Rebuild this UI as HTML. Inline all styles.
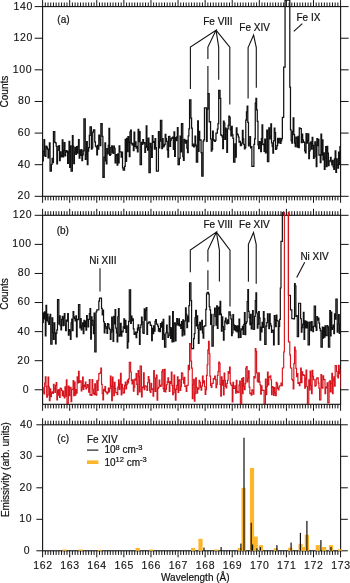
<!DOCTYPE html>
<html><head><meta charset="utf-8"><style>
html,body{margin:0;padding:0;background:#fff;width:350px;height:583px;overflow:hidden}
svg{display:block}
text{font-family:"Liberation Sans",sans-serif;font-size:10px;fill:#111;stroke:#111;stroke-width:0.2px}
.num{font-size:10.5px;letter-spacing:0.65px;stroke-width:0.12px}
</style></head><body>
<svg width="350" height="583" viewBox="0 0 350 583">
<defs>
<clipPath id="ca"><rect x="42.6" y="0" width="298" height="196.3"/></clipPath>
<clipPath id="cb"><rect x="42.6" y="212" width="298" height="192.3"/></clipPath>
</defs>
<g stroke="#111" stroke-width="1" fill="none">
<rect x="42.6" y="6.6" width="298.0" height="189.70000000000002" fill="none" stroke="#111" stroke-width="1.1"/>
<line x1="42.60" y1="6.6" x2="42.60" y2="0.09999999999999964"/>
<line x1="42.60" y1="196.3" x2="42.60" y2="202.8"/>
<line x1="45.31" y1="6.6" x2="45.31" y2="2.5"/>
<line x1="45.31" y1="196.3" x2="45.31" y2="200.4"/>
<line x1="48.02" y1="6.6" x2="48.02" y2="2.5"/>
<line x1="48.02" y1="196.3" x2="48.02" y2="200.4"/>
<line x1="50.73" y1="6.6" x2="50.73" y2="2.5"/>
<line x1="50.73" y1="196.3" x2="50.73" y2="200.4"/>
<line x1="53.44" y1="6.6" x2="53.44" y2="2.5"/>
<line x1="53.44" y1="196.3" x2="53.44" y2="200.4"/>
<line x1="56.15" y1="6.6" x2="56.15" y2="2.5"/>
<line x1="56.15" y1="196.3" x2="56.15" y2="200.4"/>
<line x1="58.85" y1="6.6" x2="58.85" y2="2.5"/>
<line x1="58.85" y1="196.3" x2="58.85" y2="200.4"/>
<line x1="61.56" y1="6.6" x2="61.56" y2="2.5"/>
<line x1="61.56" y1="196.3" x2="61.56" y2="200.4"/>
<line x1="64.27" y1="6.6" x2="64.27" y2="2.5"/>
<line x1="64.27" y1="196.3" x2="64.27" y2="200.4"/>
<line x1="66.98" y1="6.6" x2="66.98" y2="2.5"/>
<line x1="66.98" y1="196.3" x2="66.98" y2="200.4"/>
<line x1="69.69" y1="6.6" x2="69.69" y2="0.09999999999999964"/>
<line x1="69.69" y1="196.3" x2="69.69" y2="202.8"/>
<line x1="72.40" y1="6.6" x2="72.40" y2="2.5"/>
<line x1="72.40" y1="196.3" x2="72.40" y2="200.4"/>
<line x1="75.11" y1="6.6" x2="75.11" y2="2.5"/>
<line x1="75.11" y1="196.3" x2="75.11" y2="200.4"/>
<line x1="77.82" y1="6.6" x2="77.82" y2="2.5"/>
<line x1="77.82" y1="196.3" x2="77.82" y2="200.4"/>
<line x1="80.53" y1="6.6" x2="80.53" y2="2.5"/>
<line x1="80.53" y1="196.3" x2="80.53" y2="200.4"/>
<line x1="83.23" y1="6.6" x2="83.23" y2="2.5"/>
<line x1="83.23" y1="196.3" x2="83.23" y2="200.4"/>
<line x1="85.94" y1="6.6" x2="85.94" y2="2.5"/>
<line x1="85.94" y1="196.3" x2="85.94" y2="200.4"/>
<line x1="88.65" y1="6.6" x2="88.65" y2="2.5"/>
<line x1="88.65" y1="196.3" x2="88.65" y2="200.4"/>
<line x1="91.36" y1="6.6" x2="91.36" y2="2.5"/>
<line x1="91.36" y1="196.3" x2="91.36" y2="200.4"/>
<line x1="94.07" y1="6.6" x2="94.07" y2="2.5"/>
<line x1="94.07" y1="196.3" x2="94.07" y2="200.4"/>
<line x1="96.78" y1="6.6" x2="96.78" y2="0.09999999999999964"/>
<line x1="96.78" y1="196.3" x2="96.78" y2="202.8"/>
<line x1="99.49" y1="6.6" x2="99.49" y2="2.5"/>
<line x1="99.49" y1="196.3" x2="99.49" y2="200.4"/>
<line x1="102.20" y1="6.6" x2="102.20" y2="2.5"/>
<line x1="102.20" y1="196.3" x2="102.20" y2="200.4"/>
<line x1="104.91" y1="6.6" x2="104.91" y2="2.5"/>
<line x1="104.91" y1="196.3" x2="104.91" y2="200.4"/>
<line x1="107.62" y1="6.6" x2="107.62" y2="2.5"/>
<line x1="107.62" y1="196.3" x2="107.62" y2="200.4"/>
<line x1="110.32" y1="6.6" x2="110.32" y2="2.5"/>
<line x1="110.32" y1="196.3" x2="110.32" y2="200.4"/>
<line x1="113.03" y1="6.6" x2="113.03" y2="2.5"/>
<line x1="113.03" y1="196.3" x2="113.03" y2="200.4"/>
<line x1="115.74" y1="6.6" x2="115.74" y2="2.5"/>
<line x1="115.74" y1="196.3" x2="115.74" y2="200.4"/>
<line x1="118.45" y1="6.6" x2="118.45" y2="2.5"/>
<line x1="118.45" y1="196.3" x2="118.45" y2="200.4"/>
<line x1="121.16" y1="6.6" x2="121.16" y2="2.5"/>
<line x1="121.16" y1="196.3" x2="121.16" y2="200.4"/>
<line x1="123.87" y1="6.6" x2="123.87" y2="0.09999999999999964"/>
<line x1="123.87" y1="196.3" x2="123.87" y2="202.8"/>
<line x1="126.58" y1="6.6" x2="126.58" y2="2.5"/>
<line x1="126.58" y1="196.3" x2="126.58" y2="200.4"/>
<line x1="129.29" y1="6.6" x2="129.29" y2="2.5"/>
<line x1="129.29" y1="196.3" x2="129.29" y2="200.4"/>
<line x1="132.00" y1="6.6" x2="132.00" y2="2.5"/>
<line x1="132.00" y1="196.3" x2="132.00" y2="200.4"/>
<line x1="134.71" y1="6.6" x2="134.71" y2="2.5"/>
<line x1="134.71" y1="196.3" x2="134.71" y2="200.4"/>
<line x1="137.41" y1="6.6" x2="137.41" y2="2.5"/>
<line x1="137.41" y1="196.3" x2="137.41" y2="200.4"/>
<line x1="140.12" y1="6.6" x2="140.12" y2="2.5"/>
<line x1="140.12" y1="196.3" x2="140.12" y2="200.4"/>
<line x1="142.83" y1="6.6" x2="142.83" y2="2.5"/>
<line x1="142.83" y1="196.3" x2="142.83" y2="200.4"/>
<line x1="145.54" y1="6.6" x2="145.54" y2="2.5"/>
<line x1="145.54" y1="196.3" x2="145.54" y2="200.4"/>
<line x1="148.25" y1="6.6" x2="148.25" y2="2.5"/>
<line x1="148.25" y1="196.3" x2="148.25" y2="200.4"/>
<line x1="150.96" y1="6.6" x2="150.96" y2="0.09999999999999964"/>
<line x1="150.96" y1="196.3" x2="150.96" y2="202.8"/>
<line x1="153.67" y1="6.6" x2="153.67" y2="2.5"/>
<line x1="153.67" y1="196.3" x2="153.67" y2="200.4"/>
<line x1="156.38" y1="6.6" x2="156.38" y2="2.5"/>
<line x1="156.38" y1="196.3" x2="156.38" y2="200.4"/>
<line x1="159.09" y1="6.6" x2="159.09" y2="2.5"/>
<line x1="159.09" y1="196.3" x2="159.09" y2="200.4"/>
<line x1="161.80" y1="6.6" x2="161.80" y2="2.5"/>
<line x1="161.80" y1="196.3" x2="161.80" y2="200.4"/>
<line x1="164.50" y1="6.6" x2="164.50" y2="2.5"/>
<line x1="164.50" y1="196.3" x2="164.50" y2="200.4"/>
<line x1="167.21" y1="6.6" x2="167.21" y2="2.5"/>
<line x1="167.21" y1="196.3" x2="167.21" y2="200.4"/>
<line x1="169.92" y1="6.6" x2="169.92" y2="2.5"/>
<line x1="169.92" y1="196.3" x2="169.92" y2="200.4"/>
<line x1="172.63" y1="6.6" x2="172.63" y2="2.5"/>
<line x1="172.63" y1="196.3" x2="172.63" y2="200.4"/>
<line x1="175.34" y1="6.6" x2="175.34" y2="2.5"/>
<line x1="175.34" y1="196.3" x2="175.34" y2="200.4"/>
<line x1="178.05" y1="6.6" x2="178.05" y2="0.09999999999999964"/>
<line x1="178.05" y1="196.3" x2="178.05" y2="202.8"/>
<line x1="180.76" y1="6.6" x2="180.76" y2="2.5"/>
<line x1="180.76" y1="196.3" x2="180.76" y2="200.4"/>
<line x1="183.47" y1="6.6" x2="183.47" y2="2.5"/>
<line x1="183.47" y1="196.3" x2="183.47" y2="200.4"/>
<line x1="186.18" y1="6.6" x2="186.18" y2="2.5"/>
<line x1="186.18" y1="196.3" x2="186.18" y2="200.4"/>
<line x1="188.89" y1="6.6" x2="188.89" y2="2.5"/>
<line x1="188.89" y1="196.3" x2="188.89" y2="200.4"/>
<line x1="191.59" y1="6.6" x2="191.59" y2="2.5"/>
<line x1="191.59" y1="196.3" x2="191.59" y2="200.4"/>
<line x1="194.30" y1="6.6" x2="194.30" y2="2.5"/>
<line x1="194.30" y1="196.3" x2="194.30" y2="200.4"/>
<line x1="197.01" y1="6.6" x2="197.01" y2="2.5"/>
<line x1="197.01" y1="196.3" x2="197.01" y2="200.4"/>
<line x1="199.72" y1="6.6" x2="199.72" y2="2.5"/>
<line x1="199.72" y1="196.3" x2="199.72" y2="200.4"/>
<line x1="202.43" y1="6.6" x2="202.43" y2="2.5"/>
<line x1="202.43" y1="196.3" x2="202.43" y2="200.4"/>
<line x1="205.14" y1="6.6" x2="205.14" y2="0.09999999999999964"/>
<line x1="205.14" y1="196.3" x2="205.14" y2="202.8"/>
<line x1="207.85" y1="6.6" x2="207.85" y2="2.5"/>
<line x1="207.85" y1="196.3" x2="207.85" y2="200.4"/>
<line x1="210.56" y1="6.6" x2="210.56" y2="2.5"/>
<line x1="210.56" y1="196.3" x2="210.56" y2="200.4"/>
<line x1="213.27" y1="6.6" x2="213.27" y2="2.5"/>
<line x1="213.27" y1="196.3" x2="213.27" y2="200.4"/>
<line x1="215.98" y1="6.6" x2="215.98" y2="2.5"/>
<line x1="215.98" y1="196.3" x2="215.98" y2="200.4"/>
<line x1="218.69" y1="6.6" x2="218.69" y2="2.5"/>
<line x1="218.69" y1="196.3" x2="218.69" y2="200.4"/>
<line x1="221.39" y1="6.6" x2="221.39" y2="2.5"/>
<line x1="221.39" y1="196.3" x2="221.39" y2="200.4"/>
<line x1="224.10" y1="6.6" x2="224.10" y2="2.5"/>
<line x1="224.10" y1="196.3" x2="224.10" y2="200.4"/>
<line x1="226.81" y1="6.6" x2="226.81" y2="2.5"/>
<line x1="226.81" y1="196.3" x2="226.81" y2="200.4"/>
<line x1="229.52" y1="6.6" x2="229.52" y2="2.5"/>
<line x1="229.52" y1="196.3" x2="229.52" y2="200.4"/>
<line x1="232.23" y1="6.6" x2="232.23" y2="0.09999999999999964"/>
<line x1="232.23" y1="196.3" x2="232.23" y2="202.8"/>
<line x1="234.94" y1="6.6" x2="234.94" y2="2.5"/>
<line x1="234.94" y1="196.3" x2="234.94" y2="200.4"/>
<line x1="237.65" y1="6.6" x2="237.65" y2="2.5"/>
<line x1="237.65" y1="196.3" x2="237.65" y2="200.4"/>
<line x1="240.36" y1="6.6" x2="240.36" y2="2.5"/>
<line x1="240.36" y1="196.3" x2="240.36" y2="200.4"/>
<line x1="243.07" y1="6.6" x2="243.07" y2="2.5"/>
<line x1="243.07" y1="196.3" x2="243.07" y2="200.4"/>
<line x1="245.78" y1="6.6" x2="245.78" y2="2.5"/>
<line x1="245.78" y1="196.3" x2="245.78" y2="200.4"/>
<line x1="248.48" y1="6.6" x2="248.48" y2="2.5"/>
<line x1="248.48" y1="196.3" x2="248.48" y2="200.4"/>
<line x1="251.19" y1="6.6" x2="251.19" y2="2.5"/>
<line x1="251.19" y1="196.3" x2="251.19" y2="200.4"/>
<line x1="253.90" y1="6.6" x2="253.90" y2="2.5"/>
<line x1="253.90" y1="196.3" x2="253.90" y2="200.4"/>
<line x1="256.61" y1="6.6" x2="256.61" y2="2.5"/>
<line x1="256.61" y1="196.3" x2="256.61" y2="200.4"/>
<line x1="259.32" y1="6.6" x2="259.32" y2="0.09999999999999964"/>
<line x1="259.32" y1="196.3" x2="259.32" y2="202.8"/>
<line x1="262.03" y1="6.6" x2="262.03" y2="2.5"/>
<line x1="262.03" y1="196.3" x2="262.03" y2="200.4"/>
<line x1="264.74" y1="6.6" x2="264.74" y2="2.5"/>
<line x1="264.74" y1="196.3" x2="264.74" y2="200.4"/>
<line x1="267.45" y1="6.6" x2="267.45" y2="2.5"/>
<line x1="267.45" y1="196.3" x2="267.45" y2="200.4"/>
<line x1="270.16" y1="6.6" x2="270.16" y2="2.5"/>
<line x1="270.16" y1="196.3" x2="270.16" y2="200.4"/>
<line x1="272.87" y1="6.6" x2="272.87" y2="2.5"/>
<line x1="272.87" y1="196.3" x2="272.87" y2="200.4"/>
<line x1="275.57" y1="6.6" x2="275.57" y2="2.5"/>
<line x1="275.57" y1="196.3" x2="275.57" y2="200.4"/>
<line x1="278.28" y1="6.6" x2="278.28" y2="2.5"/>
<line x1="278.28" y1="196.3" x2="278.28" y2="200.4"/>
<line x1="280.99" y1="6.6" x2="280.99" y2="2.5"/>
<line x1="280.99" y1="196.3" x2="280.99" y2="200.4"/>
<line x1="283.70" y1="6.6" x2="283.70" y2="2.5"/>
<line x1="283.70" y1="196.3" x2="283.70" y2="200.4"/>
<line x1="286.41" y1="6.6" x2="286.41" y2="0.09999999999999964"/>
<line x1="286.41" y1="196.3" x2="286.41" y2="202.8"/>
<line x1="289.12" y1="6.6" x2="289.12" y2="2.5"/>
<line x1="289.12" y1="196.3" x2="289.12" y2="200.4"/>
<line x1="291.83" y1="6.6" x2="291.83" y2="2.5"/>
<line x1="291.83" y1="196.3" x2="291.83" y2="200.4"/>
<line x1="294.54" y1="6.6" x2="294.54" y2="2.5"/>
<line x1="294.54" y1="196.3" x2="294.54" y2="200.4"/>
<line x1="297.25" y1="6.6" x2="297.25" y2="2.5"/>
<line x1="297.25" y1="196.3" x2="297.25" y2="200.4"/>
<line x1="299.96" y1="6.6" x2="299.96" y2="2.5"/>
<line x1="299.96" y1="196.3" x2="299.96" y2="200.4"/>
<line x1="302.66" y1="6.6" x2="302.66" y2="2.5"/>
<line x1="302.66" y1="196.3" x2="302.66" y2="200.4"/>
<line x1="305.37" y1="6.6" x2="305.37" y2="2.5"/>
<line x1="305.37" y1="196.3" x2="305.37" y2="200.4"/>
<line x1="308.08" y1="6.6" x2="308.08" y2="2.5"/>
<line x1="308.08" y1="196.3" x2="308.08" y2="200.4"/>
<line x1="310.79" y1="6.6" x2="310.79" y2="2.5"/>
<line x1="310.79" y1="196.3" x2="310.79" y2="200.4"/>
<line x1="313.50" y1="6.6" x2="313.50" y2="0.09999999999999964"/>
<line x1="313.50" y1="196.3" x2="313.50" y2="202.8"/>
<line x1="316.21" y1="6.6" x2="316.21" y2="2.5"/>
<line x1="316.21" y1="196.3" x2="316.21" y2="200.4"/>
<line x1="318.92" y1="6.6" x2="318.92" y2="2.5"/>
<line x1="318.92" y1="196.3" x2="318.92" y2="200.4"/>
<line x1="321.63" y1="6.6" x2="321.63" y2="2.5"/>
<line x1="321.63" y1="196.3" x2="321.63" y2="200.4"/>
<line x1="324.34" y1="6.6" x2="324.34" y2="2.5"/>
<line x1="324.34" y1="196.3" x2="324.34" y2="200.4"/>
<line x1="327.05" y1="6.6" x2="327.05" y2="2.5"/>
<line x1="327.05" y1="196.3" x2="327.05" y2="200.4"/>
<line x1="329.75" y1="6.6" x2="329.75" y2="2.5"/>
<line x1="329.75" y1="196.3" x2="329.75" y2="200.4"/>
<line x1="332.46" y1="6.6" x2="332.46" y2="2.5"/>
<line x1="332.46" y1="196.3" x2="332.46" y2="200.4"/>
<line x1="335.17" y1="6.6" x2="335.17" y2="2.5"/>
<line x1="335.17" y1="196.3" x2="335.17" y2="200.4"/>
<line x1="337.88" y1="6.6" x2="337.88" y2="2.5"/>
<line x1="337.88" y1="196.3" x2="337.88" y2="200.4"/>
<line x1="340.59" y1="6.6" x2="340.59" y2="0.09999999999999964"/>
<line x1="340.59" y1="196.3" x2="340.59" y2="202.8"/>
<line x1="34.7" y1="6.60" x2="42.6" y2="6.60"/>
<line x1="340.6" y1="6.60" x2="348.6" y2="6.60"/>
<line x1="34.7" y1="38.22" x2="42.6" y2="38.22"/>
<line x1="340.6" y1="38.22" x2="348.6" y2="38.22"/>
<line x1="34.7" y1="69.84" x2="42.6" y2="69.84"/>
<line x1="340.6" y1="69.84" x2="348.6" y2="69.84"/>
<line x1="34.7" y1="101.46" x2="42.6" y2="101.46"/>
<line x1="340.6" y1="101.46" x2="348.6" y2="101.46"/>
<line x1="34.7" y1="133.08" x2="42.6" y2="133.08"/>
<line x1="340.6" y1="133.08" x2="348.6" y2="133.08"/>
<line x1="34.7" y1="164.70" x2="42.6" y2="164.70"/>
<line x1="340.6" y1="164.70" x2="348.6" y2="164.70"/>
<line x1="34.7" y1="196.32" x2="42.6" y2="196.32"/>
<line x1="340.6" y1="196.32" x2="348.6" y2="196.32"/>
<rect x="42.6" y="215.3" width="298.0" height="189.0" fill="none" stroke="#111" stroke-width="1.1"/>
<line x1="42.60" y1="215.3" x2="42.60" y2="208.8"/>
<line x1="42.60" y1="404.3" x2="42.60" y2="410.8"/>
<line x1="45.31" y1="215.3" x2="45.31" y2="211.20000000000002"/>
<line x1="45.31" y1="404.3" x2="45.31" y2="408.40000000000003"/>
<line x1="48.02" y1="215.3" x2="48.02" y2="211.20000000000002"/>
<line x1="48.02" y1="404.3" x2="48.02" y2="408.40000000000003"/>
<line x1="50.73" y1="215.3" x2="50.73" y2="211.20000000000002"/>
<line x1="50.73" y1="404.3" x2="50.73" y2="408.40000000000003"/>
<line x1="53.44" y1="215.3" x2="53.44" y2="211.20000000000002"/>
<line x1="53.44" y1="404.3" x2="53.44" y2="408.40000000000003"/>
<line x1="56.15" y1="215.3" x2="56.15" y2="211.20000000000002"/>
<line x1="56.15" y1="404.3" x2="56.15" y2="408.40000000000003"/>
<line x1="58.85" y1="215.3" x2="58.85" y2="211.20000000000002"/>
<line x1="58.85" y1="404.3" x2="58.85" y2="408.40000000000003"/>
<line x1="61.56" y1="215.3" x2="61.56" y2="211.20000000000002"/>
<line x1="61.56" y1="404.3" x2="61.56" y2="408.40000000000003"/>
<line x1="64.27" y1="215.3" x2="64.27" y2="211.20000000000002"/>
<line x1="64.27" y1="404.3" x2="64.27" y2="408.40000000000003"/>
<line x1="66.98" y1="215.3" x2="66.98" y2="211.20000000000002"/>
<line x1="66.98" y1="404.3" x2="66.98" y2="408.40000000000003"/>
<line x1="69.69" y1="215.3" x2="69.69" y2="208.8"/>
<line x1="69.69" y1="404.3" x2="69.69" y2="410.8"/>
<line x1="72.40" y1="215.3" x2="72.40" y2="211.20000000000002"/>
<line x1="72.40" y1="404.3" x2="72.40" y2="408.40000000000003"/>
<line x1="75.11" y1="215.3" x2="75.11" y2="211.20000000000002"/>
<line x1="75.11" y1="404.3" x2="75.11" y2="408.40000000000003"/>
<line x1="77.82" y1="215.3" x2="77.82" y2="211.20000000000002"/>
<line x1="77.82" y1="404.3" x2="77.82" y2="408.40000000000003"/>
<line x1="80.53" y1="215.3" x2="80.53" y2="211.20000000000002"/>
<line x1="80.53" y1="404.3" x2="80.53" y2="408.40000000000003"/>
<line x1="83.23" y1="215.3" x2="83.23" y2="211.20000000000002"/>
<line x1="83.23" y1="404.3" x2="83.23" y2="408.40000000000003"/>
<line x1="85.94" y1="215.3" x2="85.94" y2="211.20000000000002"/>
<line x1="85.94" y1="404.3" x2="85.94" y2="408.40000000000003"/>
<line x1="88.65" y1="215.3" x2="88.65" y2="211.20000000000002"/>
<line x1="88.65" y1="404.3" x2="88.65" y2="408.40000000000003"/>
<line x1="91.36" y1="215.3" x2="91.36" y2="211.20000000000002"/>
<line x1="91.36" y1="404.3" x2="91.36" y2="408.40000000000003"/>
<line x1="94.07" y1="215.3" x2="94.07" y2="211.20000000000002"/>
<line x1="94.07" y1="404.3" x2="94.07" y2="408.40000000000003"/>
<line x1="96.78" y1="215.3" x2="96.78" y2="208.8"/>
<line x1="96.78" y1="404.3" x2="96.78" y2="410.8"/>
<line x1="99.49" y1="215.3" x2="99.49" y2="211.20000000000002"/>
<line x1="99.49" y1="404.3" x2="99.49" y2="408.40000000000003"/>
<line x1="102.20" y1="215.3" x2="102.20" y2="211.20000000000002"/>
<line x1="102.20" y1="404.3" x2="102.20" y2="408.40000000000003"/>
<line x1="104.91" y1="215.3" x2="104.91" y2="211.20000000000002"/>
<line x1="104.91" y1="404.3" x2="104.91" y2="408.40000000000003"/>
<line x1="107.62" y1="215.3" x2="107.62" y2="211.20000000000002"/>
<line x1="107.62" y1="404.3" x2="107.62" y2="408.40000000000003"/>
<line x1="110.32" y1="215.3" x2="110.32" y2="211.20000000000002"/>
<line x1="110.32" y1="404.3" x2="110.32" y2="408.40000000000003"/>
<line x1="113.03" y1="215.3" x2="113.03" y2="211.20000000000002"/>
<line x1="113.03" y1="404.3" x2="113.03" y2="408.40000000000003"/>
<line x1="115.74" y1="215.3" x2="115.74" y2="211.20000000000002"/>
<line x1="115.74" y1="404.3" x2="115.74" y2="408.40000000000003"/>
<line x1="118.45" y1="215.3" x2="118.45" y2="211.20000000000002"/>
<line x1="118.45" y1="404.3" x2="118.45" y2="408.40000000000003"/>
<line x1="121.16" y1="215.3" x2="121.16" y2="211.20000000000002"/>
<line x1="121.16" y1="404.3" x2="121.16" y2="408.40000000000003"/>
<line x1="123.87" y1="215.3" x2="123.87" y2="208.8"/>
<line x1="123.87" y1="404.3" x2="123.87" y2="410.8"/>
<line x1="126.58" y1="215.3" x2="126.58" y2="211.20000000000002"/>
<line x1="126.58" y1="404.3" x2="126.58" y2="408.40000000000003"/>
<line x1="129.29" y1="215.3" x2="129.29" y2="211.20000000000002"/>
<line x1="129.29" y1="404.3" x2="129.29" y2="408.40000000000003"/>
<line x1="132.00" y1="215.3" x2="132.00" y2="211.20000000000002"/>
<line x1="132.00" y1="404.3" x2="132.00" y2="408.40000000000003"/>
<line x1="134.71" y1="215.3" x2="134.71" y2="211.20000000000002"/>
<line x1="134.71" y1="404.3" x2="134.71" y2="408.40000000000003"/>
<line x1="137.41" y1="215.3" x2="137.41" y2="211.20000000000002"/>
<line x1="137.41" y1="404.3" x2="137.41" y2="408.40000000000003"/>
<line x1="140.12" y1="215.3" x2="140.12" y2="211.20000000000002"/>
<line x1="140.12" y1="404.3" x2="140.12" y2="408.40000000000003"/>
<line x1="142.83" y1="215.3" x2="142.83" y2="211.20000000000002"/>
<line x1="142.83" y1="404.3" x2="142.83" y2="408.40000000000003"/>
<line x1="145.54" y1="215.3" x2="145.54" y2="211.20000000000002"/>
<line x1="145.54" y1="404.3" x2="145.54" y2="408.40000000000003"/>
<line x1="148.25" y1="215.3" x2="148.25" y2="211.20000000000002"/>
<line x1="148.25" y1="404.3" x2="148.25" y2="408.40000000000003"/>
<line x1="150.96" y1="215.3" x2="150.96" y2="208.8"/>
<line x1="150.96" y1="404.3" x2="150.96" y2="410.8"/>
<line x1="153.67" y1="215.3" x2="153.67" y2="211.20000000000002"/>
<line x1="153.67" y1="404.3" x2="153.67" y2="408.40000000000003"/>
<line x1="156.38" y1="215.3" x2="156.38" y2="211.20000000000002"/>
<line x1="156.38" y1="404.3" x2="156.38" y2="408.40000000000003"/>
<line x1="159.09" y1="215.3" x2="159.09" y2="211.20000000000002"/>
<line x1="159.09" y1="404.3" x2="159.09" y2="408.40000000000003"/>
<line x1="161.80" y1="215.3" x2="161.80" y2="211.20000000000002"/>
<line x1="161.80" y1="404.3" x2="161.80" y2="408.40000000000003"/>
<line x1="164.50" y1="215.3" x2="164.50" y2="211.20000000000002"/>
<line x1="164.50" y1="404.3" x2="164.50" y2="408.40000000000003"/>
<line x1="167.21" y1="215.3" x2="167.21" y2="211.20000000000002"/>
<line x1="167.21" y1="404.3" x2="167.21" y2="408.40000000000003"/>
<line x1="169.92" y1="215.3" x2="169.92" y2="211.20000000000002"/>
<line x1="169.92" y1="404.3" x2="169.92" y2="408.40000000000003"/>
<line x1="172.63" y1="215.3" x2="172.63" y2="211.20000000000002"/>
<line x1="172.63" y1="404.3" x2="172.63" y2="408.40000000000003"/>
<line x1="175.34" y1="215.3" x2="175.34" y2="211.20000000000002"/>
<line x1="175.34" y1="404.3" x2="175.34" y2="408.40000000000003"/>
<line x1="178.05" y1="215.3" x2="178.05" y2="208.8"/>
<line x1="178.05" y1="404.3" x2="178.05" y2="410.8"/>
<line x1="180.76" y1="215.3" x2="180.76" y2="211.20000000000002"/>
<line x1="180.76" y1="404.3" x2="180.76" y2="408.40000000000003"/>
<line x1="183.47" y1="215.3" x2="183.47" y2="211.20000000000002"/>
<line x1="183.47" y1="404.3" x2="183.47" y2="408.40000000000003"/>
<line x1="186.18" y1="215.3" x2="186.18" y2="211.20000000000002"/>
<line x1="186.18" y1="404.3" x2="186.18" y2="408.40000000000003"/>
<line x1="188.89" y1="215.3" x2="188.89" y2="211.20000000000002"/>
<line x1="188.89" y1="404.3" x2="188.89" y2="408.40000000000003"/>
<line x1="191.59" y1="215.3" x2="191.59" y2="211.20000000000002"/>
<line x1="191.59" y1="404.3" x2="191.59" y2="408.40000000000003"/>
<line x1="194.30" y1="215.3" x2="194.30" y2="211.20000000000002"/>
<line x1="194.30" y1="404.3" x2="194.30" y2="408.40000000000003"/>
<line x1="197.01" y1="215.3" x2="197.01" y2="211.20000000000002"/>
<line x1="197.01" y1="404.3" x2="197.01" y2="408.40000000000003"/>
<line x1="199.72" y1="215.3" x2="199.72" y2="211.20000000000002"/>
<line x1="199.72" y1="404.3" x2="199.72" y2="408.40000000000003"/>
<line x1="202.43" y1="215.3" x2="202.43" y2="211.20000000000002"/>
<line x1="202.43" y1="404.3" x2="202.43" y2="408.40000000000003"/>
<line x1="205.14" y1="215.3" x2="205.14" y2="208.8"/>
<line x1="205.14" y1="404.3" x2="205.14" y2="410.8"/>
<line x1="207.85" y1="215.3" x2="207.85" y2="211.20000000000002"/>
<line x1="207.85" y1="404.3" x2="207.85" y2="408.40000000000003"/>
<line x1="210.56" y1="215.3" x2="210.56" y2="211.20000000000002"/>
<line x1="210.56" y1="404.3" x2="210.56" y2="408.40000000000003"/>
<line x1="213.27" y1="215.3" x2="213.27" y2="211.20000000000002"/>
<line x1="213.27" y1="404.3" x2="213.27" y2="408.40000000000003"/>
<line x1="215.98" y1="215.3" x2="215.98" y2="211.20000000000002"/>
<line x1="215.98" y1="404.3" x2="215.98" y2="408.40000000000003"/>
<line x1="218.69" y1="215.3" x2="218.69" y2="211.20000000000002"/>
<line x1="218.69" y1="404.3" x2="218.69" y2="408.40000000000003"/>
<line x1="221.39" y1="215.3" x2="221.39" y2="211.20000000000002"/>
<line x1="221.39" y1="404.3" x2="221.39" y2="408.40000000000003"/>
<line x1="224.10" y1="215.3" x2="224.10" y2="211.20000000000002"/>
<line x1="224.10" y1="404.3" x2="224.10" y2="408.40000000000003"/>
<line x1="226.81" y1="215.3" x2="226.81" y2="211.20000000000002"/>
<line x1="226.81" y1="404.3" x2="226.81" y2="408.40000000000003"/>
<line x1="229.52" y1="215.3" x2="229.52" y2="211.20000000000002"/>
<line x1="229.52" y1="404.3" x2="229.52" y2="408.40000000000003"/>
<line x1="232.23" y1="215.3" x2="232.23" y2="208.8"/>
<line x1="232.23" y1="404.3" x2="232.23" y2="410.8"/>
<line x1="234.94" y1="215.3" x2="234.94" y2="211.20000000000002"/>
<line x1="234.94" y1="404.3" x2="234.94" y2="408.40000000000003"/>
<line x1="237.65" y1="215.3" x2="237.65" y2="211.20000000000002"/>
<line x1="237.65" y1="404.3" x2="237.65" y2="408.40000000000003"/>
<line x1="240.36" y1="215.3" x2="240.36" y2="211.20000000000002"/>
<line x1="240.36" y1="404.3" x2="240.36" y2="408.40000000000003"/>
<line x1="243.07" y1="215.3" x2="243.07" y2="211.20000000000002"/>
<line x1="243.07" y1="404.3" x2="243.07" y2="408.40000000000003"/>
<line x1="245.78" y1="215.3" x2="245.78" y2="211.20000000000002"/>
<line x1="245.78" y1="404.3" x2="245.78" y2="408.40000000000003"/>
<line x1="248.48" y1="215.3" x2="248.48" y2="211.20000000000002"/>
<line x1="248.48" y1="404.3" x2="248.48" y2="408.40000000000003"/>
<line x1="251.19" y1="215.3" x2="251.19" y2="211.20000000000002"/>
<line x1="251.19" y1="404.3" x2="251.19" y2="408.40000000000003"/>
<line x1="253.90" y1="215.3" x2="253.90" y2="211.20000000000002"/>
<line x1="253.90" y1="404.3" x2="253.90" y2="408.40000000000003"/>
<line x1="256.61" y1="215.3" x2="256.61" y2="211.20000000000002"/>
<line x1="256.61" y1="404.3" x2="256.61" y2="408.40000000000003"/>
<line x1="259.32" y1="215.3" x2="259.32" y2="208.8"/>
<line x1="259.32" y1="404.3" x2="259.32" y2="410.8"/>
<line x1="262.03" y1="215.3" x2="262.03" y2="211.20000000000002"/>
<line x1="262.03" y1="404.3" x2="262.03" y2="408.40000000000003"/>
<line x1="264.74" y1="215.3" x2="264.74" y2="211.20000000000002"/>
<line x1="264.74" y1="404.3" x2="264.74" y2="408.40000000000003"/>
<line x1="267.45" y1="215.3" x2="267.45" y2="211.20000000000002"/>
<line x1="267.45" y1="404.3" x2="267.45" y2="408.40000000000003"/>
<line x1="270.16" y1="215.3" x2="270.16" y2="211.20000000000002"/>
<line x1="270.16" y1="404.3" x2="270.16" y2="408.40000000000003"/>
<line x1="272.87" y1="215.3" x2="272.87" y2="211.20000000000002"/>
<line x1="272.87" y1="404.3" x2="272.87" y2="408.40000000000003"/>
<line x1="275.57" y1="215.3" x2="275.57" y2="211.20000000000002"/>
<line x1="275.57" y1="404.3" x2="275.57" y2="408.40000000000003"/>
<line x1="278.28" y1="215.3" x2="278.28" y2="211.20000000000002"/>
<line x1="278.28" y1="404.3" x2="278.28" y2="408.40000000000003"/>
<line x1="280.99" y1="215.3" x2="280.99" y2="211.20000000000002"/>
<line x1="280.99" y1="404.3" x2="280.99" y2="408.40000000000003"/>
<line x1="283.70" y1="215.3" x2="283.70" y2="211.20000000000002"/>
<line x1="283.70" y1="404.3" x2="283.70" y2="408.40000000000003"/>
<line x1="286.41" y1="215.3" x2="286.41" y2="208.8"/>
<line x1="286.41" y1="404.3" x2="286.41" y2="410.8"/>
<line x1="289.12" y1="215.3" x2="289.12" y2="211.20000000000002"/>
<line x1="289.12" y1="404.3" x2="289.12" y2="408.40000000000003"/>
<line x1="291.83" y1="215.3" x2="291.83" y2="211.20000000000002"/>
<line x1="291.83" y1="404.3" x2="291.83" y2="408.40000000000003"/>
<line x1="294.54" y1="215.3" x2="294.54" y2="211.20000000000002"/>
<line x1="294.54" y1="404.3" x2="294.54" y2="408.40000000000003"/>
<line x1="297.25" y1="215.3" x2="297.25" y2="211.20000000000002"/>
<line x1="297.25" y1="404.3" x2="297.25" y2="408.40000000000003"/>
<line x1="299.96" y1="215.3" x2="299.96" y2="211.20000000000002"/>
<line x1="299.96" y1="404.3" x2="299.96" y2="408.40000000000003"/>
<line x1="302.66" y1="215.3" x2="302.66" y2="211.20000000000002"/>
<line x1="302.66" y1="404.3" x2="302.66" y2="408.40000000000003"/>
<line x1="305.37" y1="215.3" x2="305.37" y2="211.20000000000002"/>
<line x1="305.37" y1="404.3" x2="305.37" y2="408.40000000000003"/>
<line x1="308.08" y1="215.3" x2="308.08" y2="211.20000000000002"/>
<line x1="308.08" y1="404.3" x2="308.08" y2="408.40000000000003"/>
<line x1="310.79" y1="215.3" x2="310.79" y2="211.20000000000002"/>
<line x1="310.79" y1="404.3" x2="310.79" y2="408.40000000000003"/>
<line x1="313.50" y1="215.3" x2="313.50" y2="208.8"/>
<line x1="313.50" y1="404.3" x2="313.50" y2="410.8"/>
<line x1="316.21" y1="215.3" x2="316.21" y2="211.20000000000002"/>
<line x1="316.21" y1="404.3" x2="316.21" y2="408.40000000000003"/>
<line x1="318.92" y1="215.3" x2="318.92" y2="211.20000000000002"/>
<line x1="318.92" y1="404.3" x2="318.92" y2="408.40000000000003"/>
<line x1="321.63" y1="215.3" x2="321.63" y2="211.20000000000002"/>
<line x1="321.63" y1="404.3" x2="321.63" y2="408.40000000000003"/>
<line x1="324.34" y1="215.3" x2="324.34" y2="211.20000000000002"/>
<line x1="324.34" y1="404.3" x2="324.34" y2="408.40000000000003"/>
<line x1="327.05" y1="215.3" x2="327.05" y2="211.20000000000002"/>
<line x1="327.05" y1="404.3" x2="327.05" y2="408.40000000000003"/>
<line x1="329.75" y1="215.3" x2="329.75" y2="211.20000000000002"/>
<line x1="329.75" y1="404.3" x2="329.75" y2="408.40000000000003"/>
<line x1="332.46" y1="215.3" x2="332.46" y2="211.20000000000002"/>
<line x1="332.46" y1="404.3" x2="332.46" y2="408.40000000000003"/>
<line x1="335.17" y1="215.3" x2="335.17" y2="211.20000000000002"/>
<line x1="335.17" y1="404.3" x2="335.17" y2="408.40000000000003"/>
<line x1="337.88" y1="215.3" x2="337.88" y2="211.20000000000002"/>
<line x1="337.88" y1="404.3" x2="337.88" y2="408.40000000000003"/>
<line x1="340.59" y1="215.3" x2="340.59" y2="208.8"/>
<line x1="340.59" y1="404.3" x2="340.59" y2="410.8"/>
<line x1="34.7" y1="215.30" x2="42.6" y2="215.30"/>
<line x1="340.6" y1="215.30" x2="348.6" y2="215.30"/>
<line x1="34.7" y1="244.38" x2="42.6" y2="244.38"/>
<line x1="340.6" y1="244.38" x2="348.6" y2="244.38"/>
<line x1="34.7" y1="273.46" x2="42.6" y2="273.46"/>
<line x1="340.6" y1="273.46" x2="348.6" y2="273.46"/>
<line x1="34.7" y1="302.54" x2="42.6" y2="302.54"/>
<line x1="340.6" y1="302.54" x2="348.6" y2="302.54"/>
<line x1="34.7" y1="331.62" x2="42.6" y2="331.62"/>
<line x1="340.6" y1="331.62" x2="348.6" y2="331.62"/>
<line x1="34.7" y1="360.70" x2="42.6" y2="360.70"/>
<line x1="340.6" y1="360.70" x2="348.6" y2="360.70"/>
<line x1="34.7" y1="389.78" x2="42.6" y2="389.78"/>
<line x1="340.6" y1="389.78" x2="348.6" y2="389.78"/>
<rect x="42.6" y="424.8" width="298.0" height="125.99999999999994" fill="none" stroke="#111" stroke-width="1.1"/>
<line x1="42.60" y1="424.8" x2="42.60" y2="418.3"/>
<line x1="42.60" y1="550.8" x2="42.60" y2="557.3"/>
<line x1="45.31" y1="424.8" x2="45.31" y2="420.7"/>
<line x1="45.31" y1="550.8" x2="45.31" y2="554.9"/>
<line x1="48.02" y1="424.8" x2="48.02" y2="420.7"/>
<line x1="48.02" y1="550.8" x2="48.02" y2="554.9"/>
<line x1="50.73" y1="424.8" x2="50.73" y2="420.7"/>
<line x1="50.73" y1="550.8" x2="50.73" y2="554.9"/>
<line x1="53.44" y1="424.8" x2="53.44" y2="420.7"/>
<line x1="53.44" y1="550.8" x2="53.44" y2="554.9"/>
<line x1="56.15" y1="424.8" x2="56.15" y2="420.7"/>
<line x1="56.15" y1="550.8" x2="56.15" y2="554.9"/>
<line x1="58.85" y1="424.8" x2="58.85" y2="420.7"/>
<line x1="58.85" y1="550.8" x2="58.85" y2="554.9"/>
<line x1="61.56" y1="424.8" x2="61.56" y2="420.7"/>
<line x1="61.56" y1="550.8" x2="61.56" y2="554.9"/>
<line x1="64.27" y1="424.8" x2="64.27" y2="420.7"/>
<line x1="64.27" y1="550.8" x2="64.27" y2="554.9"/>
<line x1="66.98" y1="424.8" x2="66.98" y2="420.7"/>
<line x1="66.98" y1="550.8" x2="66.98" y2="554.9"/>
<line x1="69.69" y1="424.8" x2="69.69" y2="418.3"/>
<line x1="69.69" y1="550.8" x2="69.69" y2="557.3"/>
<line x1="72.40" y1="424.8" x2="72.40" y2="420.7"/>
<line x1="72.40" y1="550.8" x2="72.40" y2="554.9"/>
<line x1="75.11" y1="424.8" x2="75.11" y2="420.7"/>
<line x1="75.11" y1="550.8" x2="75.11" y2="554.9"/>
<line x1="77.82" y1="424.8" x2="77.82" y2="420.7"/>
<line x1="77.82" y1="550.8" x2="77.82" y2="554.9"/>
<line x1="80.53" y1="424.8" x2="80.53" y2="420.7"/>
<line x1="80.53" y1="550.8" x2="80.53" y2="554.9"/>
<line x1="83.23" y1="424.8" x2="83.23" y2="420.7"/>
<line x1="83.23" y1="550.8" x2="83.23" y2="554.9"/>
<line x1="85.94" y1="424.8" x2="85.94" y2="420.7"/>
<line x1="85.94" y1="550.8" x2="85.94" y2="554.9"/>
<line x1="88.65" y1="424.8" x2="88.65" y2="420.7"/>
<line x1="88.65" y1="550.8" x2="88.65" y2="554.9"/>
<line x1="91.36" y1="424.8" x2="91.36" y2="420.7"/>
<line x1="91.36" y1="550.8" x2="91.36" y2="554.9"/>
<line x1="94.07" y1="424.8" x2="94.07" y2="420.7"/>
<line x1="94.07" y1="550.8" x2="94.07" y2="554.9"/>
<line x1="96.78" y1="424.8" x2="96.78" y2="418.3"/>
<line x1="96.78" y1="550.8" x2="96.78" y2="557.3"/>
<line x1="99.49" y1="424.8" x2="99.49" y2="420.7"/>
<line x1="99.49" y1="550.8" x2="99.49" y2="554.9"/>
<line x1="102.20" y1="424.8" x2="102.20" y2="420.7"/>
<line x1="102.20" y1="550.8" x2="102.20" y2="554.9"/>
<line x1="104.91" y1="424.8" x2="104.91" y2="420.7"/>
<line x1="104.91" y1="550.8" x2="104.91" y2="554.9"/>
<line x1="107.62" y1="424.8" x2="107.62" y2="420.7"/>
<line x1="107.62" y1="550.8" x2="107.62" y2="554.9"/>
<line x1="110.32" y1="424.8" x2="110.32" y2="420.7"/>
<line x1="110.32" y1="550.8" x2="110.32" y2="554.9"/>
<line x1="113.03" y1="424.8" x2="113.03" y2="420.7"/>
<line x1="113.03" y1="550.8" x2="113.03" y2="554.9"/>
<line x1="115.74" y1="424.8" x2="115.74" y2="420.7"/>
<line x1="115.74" y1="550.8" x2="115.74" y2="554.9"/>
<line x1="118.45" y1="424.8" x2="118.45" y2="420.7"/>
<line x1="118.45" y1="550.8" x2="118.45" y2="554.9"/>
<line x1="121.16" y1="424.8" x2="121.16" y2="420.7"/>
<line x1="121.16" y1="550.8" x2="121.16" y2="554.9"/>
<line x1="123.87" y1="424.8" x2="123.87" y2="418.3"/>
<line x1="123.87" y1="550.8" x2="123.87" y2="557.3"/>
<line x1="126.58" y1="424.8" x2="126.58" y2="420.7"/>
<line x1="126.58" y1="550.8" x2="126.58" y2="554.9"/>
<line x1="129.29" y1="424.8" x2="129.29" y2="420.7"/>
<line x1="129.29" y1="550.8" x2="129.29" y2="554.9"/>
<line x1="132.00" y1="424.8" x2="132.00" y2="420.7"/>
<line x1="132.00" y1="550.8" x2="132.00" y2="554.9"/>
<line x1="134.71" y1="424.8" x2="134.71" y2="420.7"/>
<line x1="134.71" y1="550.8" x2="134.71" y2="554.9"/>
<line x1="137.41" y1="424.8" x2="137.41" y2="420.7"/>
<line x1="137.41" y1="550.8" x2="137.41" y2="554.9"/>
<line x1="140.12" y1="424.8" x2="140.12" y2="420.7"/>
<line x1="140.12" y1="550.8" x2="140.12" y2="554.9"/>
<line x1="142.83" y1="424.8" x2="142.83" y2="420.7"/>
<line x1="142.83" y1="550.8" x2="142.83" y2="554.9"/>
<line x1="145.54" y1="424.8" x2="145.54" y2="420.7"/>
<line x1="145.54" y1="550.8" x2="145.54" y2="554.9"/>
<line x1="148.25" y1="424.8" x2="148.25" y2="420.7"/>
<line x1="148.25" y1="550.8" x2="148.25" y2="554.9"/>
<line x1="150.96" y1="424.8" x2="150.96" y2="418.3"/>
<line x1="150.96" y1="550.8" x2="150.96" y2="557.3"/>
<line x1="153.67" y1="424.8" x2="153.67" y2="420.7"/>
<line x1="153.67" y1="550.8" x2="153.67" y2="554.9"/>
<line x1="156.38" y1="424.8" x2="156.38" y2="420.7"/>
<line x1="156.38" y1="550.8" x2="156.38" y2="554.9"/>
<line x1="159.09" y1="424.8" x2="159.09" y2="420.7"/>
<line x1="159.09" y1="550.8" x2="159.09" y2="554.9"/>
<line x1="161.80" y1="424.8" x2="161.80" y2="420.7"/>
<line x1="161.80" y1="550.8" x2="161.80" y2="554.9"/>
<line x1="164.50" y1="424.8" x2="164.50" y2="420.7"/>
<line x1="164.50" y1="550.8" x2="164.50" y2="554.9"/>
<line x1="167.21" y1="424.8" x2="167.21" y2="420.7"/>
<line x1="167.21" y1="550.8" x2="167.21" y2="554.9"/>
<line x1="169.92" y1="424.8" x2="169.92" y2="420.7"/>
<line x1="169.92" y1="550.8" x2="169.92" y2="554.9"/>
<line x1="172.63" y1="424.8" x2="172.63" y2="420.7"/>
<line x1="172.63" y1="550.8" x2="172.63" y2="554.9"/>
<line x1="175.34" y1="424.8" x2="175.34" y2="420.7"/>
<line x1="175.34" y1="550.8" x2="175.34" y2="554.9"/>
<line x1="178.05" y1="424.8" x2="178.05" y2="418.3"/>
<line x1="178.05" y1="550.8" x2="178.05" y2="557.3"/>
<line x1="180.76" y1="424.8" x2="180.76" y2="420.7"/>
<line x1="180.76" y1="550.8" x2="180.76" y2="554.9"/>
<line x1="183.47" y1="424.8" x2="183.47" y2="420.7"/>
<line x1="183.47" y1="550.8" x2="183.47" y2="554.9"/>
<line x1="186.18" y1="424.8" x2="186.18" y2="420.7"/>
<line x1="186.18" y1="550.8" x2="186.18" y2="554.9"/>
<line x1="188.89" y1="424.8" x2="188.89" y2="420.7"/>
<line x1="188.89" y1="550.8" x2="188.89" y2="554.9"/>
<line x1="191.59" y1="424.8" x2="191.59" y2="420.7"/>
<line x1="191.59" y1="550.8" x2="191.59" y2="554.9"/>
<line x1="194.30" y1="424.8" x2="194.30" y2="420.7"/>
<line x1="194.30" y1="550.8" x2="194.30" y2="554.9"/>
<line x1="197.01" y1="424.8" x2="197.01" y2="420.7"/>
<line x1="197.01" y1="550.8" x2="197.01" y2="554.9"/>
<line x1="199.72" y1="424.8" x2="199.72" y2="420.7"/>
<line x1="199.72" y1="550.8" x2="199.72" y2="554.9"/>
<line x1="202.43" y1="424.8" x2="202.43" y2="420.7"/>
<line x1="202.43" y1="550.8" x2="202.43" y2="554.9"/>
<line x1="205.14" y1="424.8" x2="205.14" y2="418.3"/>
<line x1="205.14" y1="550.8" x2="205.14" y2="557.3"/>
<line x1="207.85" y1="424.8" x2="207.85" y2="420.7"/>
<line x1="207.85" y1="550.8" x2="207.85" y2="554.9"/>
<line x1="210.56" y1="424.8" x2="210.56" y2="420.7"/>
<line x1="210.56" y1="550.8" x2="210.56" y2="554.9"/>
<line x1="213.27" y1="424.8" x2="213.27" y2="420.7"/>
<line x1="213.27" y1="550.8" x2="213.27" y2="554.9"/>
<line x1="215.98" y1="424.8" x2="215.98" y2="420.7"/>
<line x1="215.98" y1="550.8" x2="215.98" y2="554.9"/>
<line x1="218.69" y1="424.8" x2="218.69" y2="420.7"/>
<line x1="218.69" y1="550.8" x2="218.69" y2="554.9"/>
<line x1="221.39" y1="424.8" x2="221.39" y2="420.7"/>
<line x1="221.39" y1="550.8" x2="221.39" y2="554.9"/>
<line x1="224.10" y1="424.8" x2="224.10" y2="420.7"/>
<line x1="224.10" y1="550.8" x2="224.10" y2="554.9"/>
<line x1="226.81" y1="424.8" x2="226.81" y2="420.7"/>
<line x1="226.81" y1="550.8" x2="226.81" y2="554.9"/>
<line x1="229.52" y1="424.8" x2="229.52" y2="420.7"/>
<line x1="229.52" y1="550.8" x2="229.52" y2="554.9"/>
<line x1="232.23" y1="424.8" x2="232.23" y2="418.3"/>
<line x1="232.23" y1="550.8" x2="232.23" y2="557.3"/>
<line x1="234.94" y1="424.8" x2="234.94" y2="420.7"/>
<line x1="234.94" y1="550.8" x2="234.94" y2="554.9"/>
<line x1="237.65" y1="424.8" x2="237.65" y2="420.7"/>
<line x1="237.65" y1="550.8" x2="237.65" y2="554.9"/>
<line x1="240.36" y1="424.8" x2="240.36" y2="420.7"/>
<line x1="240.36" y1="550.8" x2="240.36" y2="554.9"/>
<line x1="243.07" y1="424.8" x2="243.07" y2="420.7"/>
<line x1="243.07" y1="550.8" x2="243.07" y2="554.9"/>
<line x1="245.78" y1="424.8" x2="245.78" y2="420.7"/>
<line x1="245.78" y1="550.8" x2="245.78" y2="554.9"/>
<line x1="248.48" y1="424.8" x2="248.48" y2="420.7"/>
<line x1="248.48" y1="550.8" x2="248.48" y2="554.9"/>
<line x1="251.19" y1="424.8" x2="251.19" y2="420.7"/>
<line x1="251.19" y1="550.8" x2="251.19" y2="554.9"/>
<line x1="253.90" y1="424.8" x2="253.90" y2="420.7"/>
<line x1="253.90" y1="550.8" x2="253.90" y2="554.9"/>
<line x1="256.61" y1="424.8" x2="256.61" y2="420.7"/>
<line x1="256.61" y1="550.8" x2="256.61" y2="554.9"/>
<line x1="259.32" y1="424.8" x2="259.32" y2="418.3"/>
<line x1="259.32" y1="550.8" x2="259.32" y2="557.3"/>
<line x1="262.03" y1="424.8" x2="262.03" y2="420.7"/>
<line x1="262.03" y1="550.8" x2="262.03" y2="554.9"/>
<line x1="264.74" y1="424.8" x2="264.74" y2="420.7"/>
<line x1="264.74" y1="550.8" x2="264.74" y2="554.9"/>
<line x1="267.45" y1="424.8" x2="267.45" y2="420.7"/>
<line x1="267.45" y1="550.8" x2="267.45" y2="554.9"/>
<line x1="270.16" y1="424.8" x2="270.16" y2="420.7"/>
<line x1="270.16" y1="550.8" x2="270.16" y2="554.9"/>
<line x1="272.87" y1="424.8" x2="272.87" y2="420.7"/>
<line x1="272.87" y1="550.8" x2="272.87" y2="554.9"/>
<line x1="275.57" y1="424.8" x2="275.57" y2="420.7"/>
<line x1="275.57" y1="550.8" x2="275.57" y2="554.9"/>
<line x1="278.28" y1="424.8" x2="278.28" y2="420.7"/>
<line x1="278.28" y1="550.8" x2="278.28" y2="554.9"/>
<line x1="280.99" y1="424.8" x2="280.99" y2="420.7"/>
<line x1="280.99" y1="550.8" x2="280.99" y2="554.9"/>
<line x1="283.70" y1="424.8" x2="283.70" y2="420.7"/>
<line x1="283.70" y1="550.8" x2="283.70" y2="554.9"/>
<line x1="286.41" y1="424.8" x2="286.41" y2="418.3"/>
<line x1="286.41" y1="550.8" x2="286.41" y2="557.3"/>
<line x1="289.12" y1="424.8" x2="289.12" y2="420.7"/>
<line x1="289.12" y1="550.8" x2="289.12" y2="554.9"/>
<line x1="291.83" y1="424.8" x2="291.83" y2="420.7"/>
<line x1="291.83" y1="550.8" x2="291.83" y2="554.9"/>
<line x1="294.54" y1="424.8" x2="294.54" y2="420.7"/>
<line x1="294.54" y1="550.8" x2="294.54" y2="554.9"/>
<line x1="297.25" y1="424.8" x2="297.25" y2="420.7"/>
<line x1="297.25" y1="550.8" x2="297.25" y2="554.9"/>
<line x1="299.96" y1="424.8" x2="299.96" y2="420.7"/>
<line x1="299.96" y1="550.8" x2="299.96" y2="554.9"/>
<line x1="302.66" y1="424.8" x2="302.66" y2="420.7"/>
<line x1="302.66" y1="550.8" x2="302.66" y2="554.9"/>
<line x1="305.37" y1="424.8" x2="305.37" y2="420.7"/>
<line x1="305.37" y1="550.8" x2="305.37" y2="554.9"/>
<line x1="308.08" y1="424.8" x2="308.08" y2="420.7"/>
<line x1="308.08" y1="550.8" x2="308.08" y2="554.9"/>
<line x1="310.79" y1="424.8" x2="310.79" y2="420.7"/>
<line x1="310.79" y1="550.8" x2="310.79" y2="554.9"/>
<line x1="313.50" y1="424.8" x2="313.50" y2="418.3"/>
<line x1="313.50" y1="550.8" x2="313.50" y2="557.3"/>
<line x1="316.21" y1="424.8" x2="316.21" y2="420.7"/>
<line x1="316.21" y1="550.8" x2="316.21" y2="554.9"/>
<line x1="318.92" y1="424.8" x2="318.92" y2="420.7"/>
<line x1="318.92" y1="550.8" x2="318.92" y2="554.9"/>
<line x1="321.63" y1="424.8" x2="321.63" y2="420.7"/>
<line x1="321.63" y1="550.8" x2="321.63" y2="554.9"/>
<line x1="324.34" y1="424.8" x2="324.34" y2="420.7"/>
<line x1="324.34" y1="550.8" x2="324.34" y2="554.9"/>
<line x1="327.05" y1="424.8" x2="327.05" y2="420.7"/>
<line x1="327.05" y1="550.8" x2="327.05" y2="554.9"/>
<line x1="329.75" y1="424.8" x2="329.75" y2="420.7"/>
<line x1="329.75" y1="550.8" x2="329.75" y2="554.9"/>
<line x1="332.46" y1="424.8" x2="332.46" y2="420.7"/>
<line x1="332.46" y1="550.8" x2="332.46" y2="554.9"/>
<line x1="335.17" y1="424.8" x2="335.17" y2="420.7"/>
<line x1="335.17" y1="550.8" x2="335.17" y2="554.9"/>
<line x1="337.88" y1="424.8" x2="337.88" y2="420.7"/>
<line x1="337.88" y1="550.8" x2="337.88" y2="554.9"/>
<line x1="340.59" y1="424.8" x2="340.59" y2="418.3"/>
<line x1="340.59" y1="550.8" x2="340.59" y2="557.3"/>
<line x1="36.4" y1="424.80" x2="42.6" y2="424.80"/>
<line x1="340.6" y1="424.80" x2="347.8" y2="424.80"/>
<line x1="36.4" y1="456.30" x2="42.6" y2="456.30"/>
<line x1="340.6" y1="456.30" x2="347.8" y2="456.30"/>
<line x1="36.4" y1="487.80" x2="42.6" y2="487.80"/>
<line x1="340.6" y1="487.80" x2="347.8" y2="487.80"/>
<line x1="36.4" y1="519.30" x2="42.6" y2="519.30"/>
<line x1="340.6" y1="519.30" x2="347.8" y2="519.30"/>
<line x1="36.4" y1="550.80" x2="42.6" y2="550.80"/>
<line x1="340.6" y1="550.80" x2="347.8" y2="550.80"/>
</g>
<g clip-path="url(#ca)"><path d="M42.60,160.80 43.28,160.80 43.28,151.24 43.95,151.24 43.95,139.64 44.63,139.64 44.63,155.50 45.31,155.50 45.31,156.33 45.99,156.33 45.99,146.23 46.66,146.23 46.66,147.10 47.34,147.10 47.34,149.01 48.02,149.01 48.02,157.84 48.70,157.84 48.70,149.58 49.37,149.58 49.37,142.89 50.05,142.89 50.05,171.02 50.73,171.02 50.73,171.02 51.40,171.02 51.40,164.29 52.08,164.29 52.08,158.35 52.76,158.35 52.76,162.69 53.44,162.69 53.44,131.50 54.11,131.50 54.11,131.50 54.79,131.50 54.79,142.44 55.47,142.44 55.47,142.92 56.15,142.92 56.15,146.18 56.82,146.18 56.82,163.97 57.50,163.97 57.50,150.35 58.18,150.35 58.18,146.56 58.85,146.56 58.85,145.67 59.53,145.67 59.53,160.71 60.21,160.71 60.21,151.96 60.89,151.96 60.89,156.91 61.56,156.91 61.56,155.95 62.24,155.95 62.24,139.87 62.92,139.87 62.92,156.76 63.59,156.76 63.59,150.32 64.27,150.32 64.27,142.63 64.95,142.63 64.95,155.99 65.63,155.99 65.63,152.23 66.30,152.23 66.30,150.67 66.98,150.67 66.98,151.48 67.66,151.48 67.66,163.25 68.34,163.25 68.34,152.18 69.01,152.18 69.01,141.26 69.69,141.26 69.69,167.28 70.37,167.28 70.37,145.94 71.04,145.94 71.04,171.02 71.72,171.02 71.72,171.02 72.40,171.02 72.40,135.55 73.08,135.55 73.08,146.37 73.75,146.37 73.75,163.57 74.43,163.57 74.43,152.22 75.11,152.22 75.11,147.68 75.79,147.68 75.79,154.33 76.46,154.33 76.46,146.53 77.14,146.53 77.14,153.04 77.82,153.04 77.82,146.46 78.49,146.46 78.49,139.54 79.17,139.54 79.17,158.09 79.85,158.09 79.85,150.11 80.53,150.11 80.53,155.43 81.20,155.43 81.20,149.66 81.88,149.66 81.88,160.70 82.56,160.70 82.56,154.78 83.23,154.78 83.23,150.85 83.91,150.85 83.91,118.85 84.59,118.85 84.59,118.85 85.27,118.85 85.27,159.44 85.94,159.44 85.94,154.57 86.62,154.57 86.62,141.65 87.30,141.65 87.30,164.73 87.98,164.73 87.98,151.03 88.65,151.03 88.65,147.60 89.33,147.60 89.33,135.45 90.01,135.45 90.01,126.76 90.68,126.76 90.68,126.76 91.36,126.76 91.36,149.18 92.04,149.18 92.04,147.93 92.72,147.93 92.72,132.08 93.39,132.08 93.39,129.92 94.07,129.92 94.07,129.92 94.75,129.92 94.75,141.83 95.43,141.83 95.43,146.07 96.10,146.07 96.10,146.80 96.78,146.80 96.78,154.95 97.46,154.95 97.46,145.28 98.13,145.28 98.13,149.15 98.81,149.15 98.81,135.00 99.49,135.00 99.49,139.59 100.17,139.59 100.17,145.62 100.84,145.62 100.84,123.59 101.52,123.59 101.52,123.59 102.20,123.59 102.20,136.30 102.88,136.30 102.88,177.35 103.55,177.35 103.55,177.35 104.23,177.35 104.23,157.14 104.91,157.14 104.91,142.75 105.58,142.75 105.58,160.76 106.26,160.76 106.26,163.88 106.94,163.88 106.94,148.67 107.62,148.67 107.62,153.98 108.29,153.98 108.29,145.25 108.97,145.25 108.97,128.48 109.65,128.48 109.65,155.42 110.32,155.42 110.32,154.29 111.00,154.29 111.00,147.67 111.68,147.67 111.68,145.82 112.36,145.82 112.36,152.43 113.03,152.43 113.03,153.38 113.71,153.38 113.71,146.06 114.39,146.06 114.39,148.37 115.07,148.37 115.07,162.77 115.74,162.77 115.74,155.05 116.42,155.05 116.42,154.73 117.10,154.73 117.10,165.04 117.77,165.04 117.77,153.88 118.45,153.88 118.45,162.89 119.13,162.89 119.13,145.89 119.81,145.89 119.81,151.91 120.48,151.91 120.48,151.96 121.16,151.96 121.16,157.11 121.84,157.11 121.84,152.08 122.52,152.08 122.52,167.81 123.19,167.81 123.19,170.23 123.87,170.23 123.87,170.23 124.55,170.23 124.55,166.39 125.22,166.39 125.22,139.29 125.90,139.29 125.90,161.30 126.58,161.30 126.58,138.37 127.26,138.37 127.26,151.64 127.93,151.64 127.93,136.72 128.61,136.72 128.61,142.23 129.29,142.23 129.29,156.74 129.97,156.74 129.97,131.95 130.64,131.95 130.64,130.04 131.32,130.04 131.32,143.14 132.00,143.14 132.00,144.77 132.67,144.77 132.67,143.55 133.35,143.55 133.35,150.54 134.03,150.54 134.03,132.04 134.71,132.04 134.71,146.31 135.38,146.31 135.38,141.77 136.06,141.77 136.06,148.11 136.74,148.11 136.74,146.43 137.41,146.43 137.41,151.97 138.09,151.97 138.09,129.40 138.77,129.40 138.77,141.65 139.45,141.65 139.45,131.56 140.12,131.56 140.12,164.70 140.80,164.70 140.80,164.70 141.48,164.70 141.48,142.34 142.16,142.34 142.16,144.47 142.83,144.47 142.83,139.62 143.51,139.62 143.51,143.16 144.19,143.16 144.19,142.66 144.86,142.66 144.86,152.35 145.54,152.35 145.54,147.47 146.22,147.47 146.22,125.92 146.90,125.92 146.90,146.60 147.57,146.60 147.57,150.14 148.25,150.14 148.25,138.03 148.93,138.03 148.93,172.60 149.61,172.60 149.61,172.60 150.28,172.60 150.28,143.34 150.96,143.34 150.96,147.24 151.64,147.24 151.64,157.37 152.31,157.37 152.31,135.51 152.99,135.51 152.99,142.37 153.67,142.37 153.67,141.69 154.35,141.69 154.35,149.13 155.02,149.13 155.02,138.63 155.70,138.63 155.70,147.54 156.38,147.54 156.38,171.02 157.06,171.02 157.06,171.02 157.73,171.02 157.73,171.02 158.41,171.02 158.41,131.55 159.09,131.55 159.09,147.95 159.76,147.95 159.76,141.04 160.44,141.04 160.44,120.43 161.12,120.43 161.12,120.43 161.80,120.43 161.80,148.51 162.47,148.51 162.47,138.61 163.15,138.61 163.15,146.97 163.83,146.97 163.83,145.79 164.50,145.79 164.50,144.39 165.18,144.39 165.18,134.28 165.86,134.28 165.86,138.71 166.54,138.71 166.54,141.39 167.21,141.39 167.21,149.80 167.89,149.80 167.89,157.07 168.57,157.07 168.57,136.55 169.25,136.55 169.25,136.46 169.92,136.46 169.92,146.28 170.60,146.28 170.60,140.31 171.28,140.31 171.28,138.25 171.95,138.25 171.95,137.86 172.63,137.86 172.63,137.12 173.31,137.12 173.31,149.32 173.99,149.32 173.99,131.99 174.66,131.99 174.66,156.41 175.34,156.41 175.34,137.54 176.02,137.54 176.02,140.51 176.70,140.51 176.70,136.89 177.37,136.89 177.37,127.74 178.05,127.74 178.05,164.70 178.73,164.70 178.73,164.70 179.40,164.70 179.40,158.40 180.08,158.40 180.08,136.02 180.76,136.02 180.76,151.91 181.44,151.91 181.44,123.59 182.11,123.59 182.11,123.59 182.79,123.59 182.79,156.64 183.47,156.64 183.47,160.48 184.15,160.48 184.15,139.31 184.82,139.31 184.82,140.93 185.50,140.93 185.50,143.22 186.18,143.22 186.18,140.46 186.85,140.46 186.85,148.06 187.53,148.06 187.53,152.62 188.21,152.62 188.21,135.81 188.89,135.81 188.89,128.97 189.56,128.97 189.56,99.88 190.24,99.88 190.24,99.88 190.92,99.88 190.92,118.00 191.59,118.00 191.59,128.13 192.27,128.13 192.27,145.92 192.95,145.92 192.95,144.07 193.63,144.07 193.63,146.99 194.30,146.99 194.30,145.77 194.98,145.77 194.98,136.20 195.66,136.20 195.66,145.05 196.34,145.05 196.34,162.17 197.01,162.17 197.01,162.17 197.69,162.17 197.69,120.91 198.37,120.91 198.37,151.28 199.04,151.28 199.04,131.38 199.72,131.38 199.72,140.21 200.40,140.21 200.40,139.76 201.08,139.76 201.08,152.64 201.75,152.64 201.75,176.24 202.43,176.24 202.43,176.24 203.11,176.24 203.11,141.22 203.79,141.22 203.79,139.98 204.46,139.98 204.46,107.78 205.14,107.78 205.14,107.78 205.82,107.78 205.82,107.78 206.49,107.78 206.49,141.35 207.17,141.35 207.17,109.16 207.85,109.16 207.85,93.55 208.53,93.55 208.53,93.55 209.20,93.55 209.20,121.84 209.88,121.84 209.88,121.57 210.56,121.57 210.56,138.83 211.24,138.83 211.24,151.08 211.91,151.08 211.91,149.26 212.59,149.26 212.59,131.01 213.27,131.01 213.27,139.59 213.94,139.59 213.94,140.56 214.62,140.56 214.62,141.46 215.30,141.46 215.30,140.33 215.98,140.33 215.98,133.00 216.65,133.00 216.65,133.23 217.33,133.23 217.33,129.16 218.01,129.16 218.01,123.58 218.69,123.58 218.69,90.39 219.36,90.39 219.36,90.39 220.04,90.39 220.04,98.27 220.72,98.27 220.72,134.78 221.39,134.78 221.39,135.25 222.07,135.25 222.07,136.88 222.75,136.88 222.75,148.57 223.43,148.57 223.43,121.23 224.10,121.23 224.10,123.01 224.78,123.01 224.78,139.45 225.46,139.45 225.46,128.01 226.13,128.01 226.13,130.93 226.81,130.93 226.81,152.36 227.49,152.36 227.49,128.93 228.17,128.93 228.17,125.36 228.84,125.36 228.84,116.21 229.52,116.21 229.52,117.27 230.20,117.27 230.20,129.62 230.88,129.62 230.88,135.92 231.55,135.92 231.55,126.28 232.23,126.28 232.23,134.67 232.91,134.67 232.91,138.35 233.58,138.35 233.58,162.17 234.26,162.17 234.26,162.17 234.94,162.17 234.94,143.76 235.62,143.76 235.62,157.03 236.29,157.03 236.29,127.83 236.97,127.83 236.97,133.84 237.65,133.84 237.65,134.94 238.33,134.94 238.33,137.22 239.00,137.22 239.00,142.22 239.68,142.22 239.68,141.37 240.36,141.37 240.36,145.58 241.03,145.58 241.03,145.23 241.71,145.23 241.71,143.03 242.39,143.03 242.39,130.25 243.07,130.25 243.07,138.76 243.74,138.76 243.74,144.25 244.42,144.25 244.42,148.77 245.10,148.77 245.10,147.58 245.78,147.58 245.78,120.21 246.45,120.21 246.45,111.87 247.13,111.87 247.13,106.20 247.81,106.20 247.81,122.30 248.48,122.30 248.48,145.87 249.16,145.87 249.16,143.75 249.84,143.75 249.84,136.66 250.52,136.66 250.52,147.99 251.19,147.99 251.19,146.61 251.87,146.61 251.87,166.28 252.55,166.28 252.55,166.28 253.22,166.28 253.22,166.28 253.90,166.28 253.90,144.27 254.58,144.27 254.58,138.79 255.26,138.79 255.26,103.18 255.93,103.18 255.93,98.30 256.61,98.30 256.61,109.94 257.29,109.94 257.29,121.48 257.97,121.48 257.97,144.86 258.64,144.86 258.64,148.59 259.32,148.59 259.32,141.54 260.00,141.54 260.00,143.10 260.67,143.10 260.67,151.69 261.35,151.69 261.35,138.70 262.03,138.70 262.03,124.82 262.71,124.82 262.71,144.73 263.38,144.73 263.38,144.08 264.06,144.08 264.06,151.36 264.74,151.36 264.74,139.16 265.42,139.16 265.42,152.82 266.09,152.82 266.09,151.43 266.77,151.43 266.77,130.22 267.45,130.22 267.45,161.54 268.12,161.54 268.12,161.54 268.80,161.54 268.80,127.82 269.48,127.82 269.48,138.97 270.16,138.97 270.16,136.35 270.83,136.35 270.83,123.99 271.51,123.99 271.51,142.94 272.19,142.94 272.19,146.41 272.87,146.41 272.87,153.10 273.54,153.10 273.54,140.78 274.22,140.78 274.22,128.08 274.90,128.08 274.90,132.64 275.57,132.64 275.57,149.40 276.25,149.40 276.25,148.62 276.93,148.62 276.93,145.51 277.61,145.51 277.61,138.46 278.28,138.46 278.28,142.83 278.96,142.83 278.96,139.11 279.64,139.11 279.64,138.37 280.31,138.37 280.31,143.41 280.99,143.41 280.99,140.92 281.67,140.92 281.67,138.53 282.35,138.53 282.35,117.27 283.02,117.27 283.02,117.27 283.70,117.27 283.70,67.15 284.38,67.15 284.38,67.15 285.06,67.15 285.06,0.00 285.73,0.00 285.73,0.00 286.41,0.00 286.41,0.00 287.09,0.00 287.09,0.00 287.76,0.00 287.76,0.00 288.44,0.00 288.44,0.00 289.12,0.00 289.12,0.00 289.80,0.00 289.80,87.23 290.47,87.23 290.47,129.92 291.15,129.92 291.15,140.63 291.83,140.63 291.83,143.13 292.51,143.13 292.51,131.30 293.18,131.30 293.18,117.80 293.86,117.80 293.86,134.58 294.54,134.58 294.54,143.16 295.21,143.16 295.21,146.74 295.89,146.74 295.89,137.13 296.57,137.13 296.57,138.40 297.25,138.40 297.25,147.22 297.92,147.22 297.92,136.25 298.60,136.25 298.60,147.64 299.28,147.64 299.28,127.89 299.96,127.89 299.96,128.54 300.63,128.54 300.63,128.56 301.31,128.56 301.31,142.53 301.99,142.53 301.99,134.02 302.66,134.02 302.66,139.94 303.34,139.94 303.34,142.42 304.02,142.42 304.02,142.19 304.70,142.19 304.70,150.90 305.37,150.90 305.37,152.82 306.05,152.82 306.05,133.71 306.73,133.71 306.73,143.05 307.40,143.05 307.40,140.10 308.08,140.10 308.08,133.81 308.76,133.81 308.76,158.58 309.44,158.58 309.44,150.85 310.11,150.85 310.11,143.03 310.79,143.03 310.79,141.76 311.47,141.76 311.47,149.19 312.15,149.19 312.15,137.42 312.82,137.42 312.82,145.29 313.50,145.29 313.50,158.49 314.18,158.49 314.18,156.64 314.85,156.64 314.85,141.91 315.53,141.91 315.53,145.39 316.21,145.39 316.21,166.69 316.89,166.69 316.89,138.51 317.56,138.51 317.56,145.58 318.24,145.58 318.24,139.46 318.92,139.46 318.92,155.16 319.60,155.16 319.60,154.84 320.27,154.84 320.27,162.63 320.95,162.63 320.95,134.24 321.63,134.24 321.63,155.16 322.30,155.16 322.30,139.88 322.98,139.88 322.98,159.87 323.66,159.87 323.66,152.98 324.34,152.98 324.34,169.44 325.01,169.44 325.01,158.34 325.69,158.34 325.69,146.55 326.37,146.55 326.37,166.54 327.05,166.54 327.05,146.30 327.72,146.30 327.72,153.05 328.40,153.05 328.40,165.51 329.08,165.51 329.08,160.99 329.75,160.99 329.75,160.87 330.43,160.87 330.43,157.48 331.11,157.48 331.11,161.98 331.79,161.98 331.79,164.77 332.46,164.77 332.46,160.37 333.14,160.37 333.14,166.96 333.82,166.96 333.82,169.49 334.49,169.49 334.49,158.75 335.17,158.75 335.17,150.75 335.85,150.75 335.85,172.25 336.53,172.25 336.53,158.93 337.20,158.93 337.20,164.91 337.88,164.91 337.88,168.02 338.56,168.02 338.56,152.08 339.24,152.08 339.24,164.39 339.91,164.39 339.91,146.74 340.59,146.74 340.59,166.84 340.60,166.84" fill="none" stroke="#111" stroke-width="1.25"/></g>
<g clip-path="url(#cb)"><path d="M42.60,322.44 43.28,322.44 43.28,312.84 43.95,312.84 43.95,318.87 44.63,318.87 44.63,311.96 45.31,311.96 45.31,335.82 45.99,335.82 45.99,305.27 46.66,305.27 46.66,320.70 47.34,320.70 47.34,314.03 48.02,314.03 48.02,321.79 48.70,321.79 48.70,324.35 49.37,324.35 49.37,317.09 50.05,317.09 50.05,314.41 50.73,314.41 50.73,344.27 51.40,344.27 51.40,344.27 52.08,344.27 52.08,317.91 52.76,317.91 52.76,332.74 53.44,332.74 53.44,339.32 54.11,339.32 54.11,322.79 54.79,322.79 54.79,332.96 55.47,332.96 55.47,343.87 56.15,343.87 56.15,333.44 56.82,333.44 56.82,329.90 57.50,329.90 57.50,299.63 58.18,299.63 58.18,299.63 58.85,299.63 58.85,324.11 59.53,324.11 59.53,315.91 60.21,315.91 60.21,325.74 60.89,325.74 60.89,329.95 61.56,329.95 61.56,319.32 62.24,319.32 62.24,316.33 62.92,316.33 62.92,325.62 63.59,325.62 63.59,318.06 64.27,318.06 64.27,313.63 64.95,313.63 64.95,325.03 65.63,325.03 65.63,330.60 66.30,330.60 66.30,320.17 66.98,320.17 66.98,321.16 67.66,321.16 67.66,313.54 68.34,313.54 68.34,335.20 69.01,335.20 69.01,329.64 69.69,329.64 69.69,331.33 70.37,331.33 70.37,339.52 71.04,339.52 71.04,322.76 71.72,322.76 71.72,319.21 72.40,319.21 72.40,330.76 73.08,330.76 73.08,311.61 73.75,311.61 73.75,316.80 74.43,316.80 74.43,318.64 75.11,318.64 75.11,320.82 75.79,320.82 75.79,315.95 76.46,315.95 76.46,336.82 77.14,336.82 77.14,319.36 77.82,319.36 77.82,319.61 78.49,319.61 78.49,304.72 79.17,304.72 79.17,304.72 79.85,304.72 79.85,327.80 80.53,327.80 80.53,318.61 81.20,318.61 81.20,329.82 81.88,329.82 81.88,326.09 82.56,326.09 82.56,322.74 83.23,322.74 83.23,333.69 83.91,333.69 83.91,320.25 84.59,320.25 84.59,326.54 85.27,326.54 85.27,321.05 85.94,321.05 85.94,330.15 86.62,330.15 86.62,315.51 87.30,315.51 87.30,319.78 87.98,319.78 87.98,326.78 88.65,326.78 88.65,319.37 89.33,319.37 89.33,313.60 90.01,313.60 90.01,308.71 90.68,308.71 90.68,339.09 91.36,339.09 91.36,316.76 92.04,316.76 92.04,320.46 92.72,320.46 92.72,325.44 93.39,325.44 93.39,333.62 94.07,333.62 94.07,313.03 94.75,313.03 94.75,351.98 95.43,351.98 95.43,351.98 96.10,351.98 96.10,311.96 96.78,311.96 96.78,309.81 97.46,309.81 97.46,309.81 98.13,309.81 98.13,309.81 98.81,309.81 98.81,301.09 99.49,301.09 99.49,298.18 100.17,298.18 100.17,298.18 100.84,298.18 100.84,298.18 101.52,298.18 101.52,308.36 102.20,308.36 102.20,314.91 102.88,314.91 102.88,310.03 103.55,310.03 103.55,321.71 104.23,321.71 104.23,332.81 104.91,332.81 104.91,323.64 105.58,323.64 105.58,326.66 106.26,326.66 106.26,328.52 106.94,328.52 106.94,333.49 107.62,333.49 107.62,323.50 108.29,323.50 108.29,324.38 108.97,324.38 108.97,328.17 109.65,328.17 109.65,329.50 110.32,329.50 110.32,339.29 111.00,339.29 111.00,332.23 111.68,332.23 111.68,317.07 112.36,317.07 112.36,329.88 113.03,329.88 113.03,341.35 113.71,341.35 113.71,316.40 114.39,316.40 114.39,323.85 115.07,323.85 115.07,309.63 115.74,309.63 115.74,328.15 116.42,328.15 116.42,332.89 117.10,332.89 117.10,341.82 117.77,341.82 117.77,316.73 118.45,316.73 118.45,308.65 119.13,308.65 119.13,336.14 119.81,336.14 119.81,334.57 120.48,334.57 120.48,323.31 121.16,323.31 121.16,336.23 121.84,336.23 121.84,331.16 122.52,331.16 122.52,331.88 123.19,331.88 123.19,326.97 123.87,326.97 123.87,318.80 124.55,318.80 124.55,328.51 125.22,328.51 125.22,320.39 125.90,320.39 125.90,332.51 126.58,332.51 126.58,325.74 127.26,325.74 127.26,348.07 127.93,348.07 127.93,341.80 128.61,341.80 128.61,321.37 129.29,321.37 129.29,289.74 129.97,289.74 129.97,289.74 130.64,289.74 130.64,323.37 131.32,323.37 131.32,316.21 132.00,316.21 132.00,320.73 132.67,320.73 132.67,318.78 133.35,318.78 133.35,328.90 134.03,328.90 134.03,334.11 134.71,334.11 134.71,334.31 135.38,334.31 135.38,332.01 136.06,332.01 136.06,337.72 136.74,337.72 136.74,332.35 137.41,332.35 137.41,328.13 138.09,328.13 138.09,324.92 138.77,324.92 138.77,330.16 139.45,330.16 139.45,344.41 140.12,344.41 140.12,327.62 140.80,327.62 140.80,324.93 141.48,324.93 141.48,317.15 142.16,317.15 142.16,321.74 142.83,321.74 142.83,332.79 143.51,332.79 143.51,333.52 144.19,333.52 144.19,308.76 144.86,308.76 144.86,320.12 145.54,320.12 145.54,310.39 146.22,310.39 146.22,307.69 146.90,307.69 146.90,334.37 147.57,334.37 147.57,323.48 148.25,323.48 148.25,322.82 148.93,322.82 148.93,321.90 149.61,321.90 149.61,322.06 150.28,322.06 150.28,325.14 150.96,325.14 150.96,325.39 151.64,325.39 151.64,340.57 152.31,340.57 152.31,328.46 152.99,328.46 152.99,333.74 153.67,333.74 153.67,325.83 154.35,325.83 154.35,331.20 155.02,331.20 155.02,321.37 155.70,321.37 155.70,319.55 156.38,319.55 156.38,324.17 157.06,324.17 157.06,324.10 157.73,324.10 157.73,326.13 158.41,326.13 158.41,331.08 159.09,331.08 159.09,328.58 159.76,328.58 159.76,331.63 160.44,331.63 160.44,323.69 161.12,323.69 161.12,327.13 161.80,327.13 161.80,322.06 162.47,322.06 162.47,339.40 163.15,339.40 163.15,319.40 163.83,319.40 163.83,334.40 164.50,334.40 164.50,347.03 165.18,347.03 165.18,347.03 165.86,347.03 165.86,332.76 166.54,332.76 166.54,325.08 167.21,325.08 167.21,332.98 167.89,332.98 167.89,337.52 168.57,337.52 168.57,335.55 169.25,335.55 169.25,316.07 169.92,316.07 169.92,327.57 170.60,327.57 170.60,338.50 171.28,338.50 171.28,327.82 171.95,327.82 171.95,341.94 172.63,341.94 172.63,311.62 173.31,311.62 173.31,341.58 173.99,341.58 173.99,323.41 174.66,323.41 174.66,322.78 175.34,322.78 175.34,340.79 176.02,340.79 176.02,324.91 176.70,324.91 176.70,318.56 177.37,318.56 177.37,323.32 178.05,323.32 178.05,325.15 178.73,325.15 178.73,318.89 179.40,318.89 179.40,325.98 180.08,325.98 180.08,324.36 180.76,324.36 180.76,328.51 181.44,328.51 181.44,321.61 182.11,321.61 182.11,335.81 182.79,335.81 182.79,319.90 183.47,319.90 183.47,330.66 184.15,330.66 184.15,334.97 184.82,334.97 184.82,320.81 185.50,320.81 185.50,307.80 186.18,307.80 186.18,314.31 186.85,314.31 186.85,327.76 187.53,327.76 187.53,316.06 188.21,316.06 188.21,321.68 188.89,321.68 188.89,305.67 189.56,305.67 189.56,282.77 190.24,282.77 190.24,282.77 190.92,282.77 190.92,300.56 191.59,300.56 191.59,348.63 192.27,348.63 192.27,348.63 192.95,348.63 192.95,348.63 193.63,348.63 193.63,338.60 194.30,338.60 194.30,333.59 194.98,333.59 194.98,317.74 195.66,317.74 195.66,310.30 196.34,310.30 196.34,325.78 197.01,325.78 197.01,315.84 197.69,315.84 197.69,328.28 198.37,328.28 198.37,343.37 199.04,343.37 199.04,324.87 199.72,324.87 199.72,322.32 200.40,322.32 200.40,329.93 201.08,329.93 201.08,323.00 201.75,323.00 201.75,320.25 202.43,320.25 202.43,332.94 203.11,332.94 203.11,338.18 203.79,338.18 203.79,326.49 204.46,326.49 204.46,325.92 205.14,325.92 205.14,325.79 205.82,325.79 205.82,309.42 206.49,309.42 206.49,293.85 207.17,293.85 207.17,292.36 207.85,292.36 207.85,292.36 208.53,292.36 208.53,294.10 209.20,294.10 209.20,306.72 209.88,306.72 209.88,309.82 210.56,309.82 210.56,324.48 211.24,324.48 211.24,314.37 211.91,314.37 211.91,346.16 212.59,346.16 212.59,346.16 213.27,346.16 213.27,325.80 213.94,325.80 213.94,314.38 214.62,314.38 214.62,308.14 215.30,308.14 215.30,316.45 215.98,316.45 215.98,325.06 216.65,325.06 216.65,305.79 217.33,305.79 217.33,328.51 218.01,328.51 218.01,308.61 218.69,308.61 218.69,307.08 219.36,307.08 219.36,314.53 220.04,314.53 220.04,301.32 220.72,301.32 220.72,314.21 221.39,314.21 221.39,331.24 222.07,331.24 222.07,316.76 222.75,316.76 222.75,326.57 223.43,326.57 223.43,340.17 224.10,340.17 224.10,329.48 224.78,329.48 224.78,321.16 225.46,321.16 225.46,318.09 226.13,318.09 226.13,322.65 226.81,322.65 226.81,324.00 227.49,324.00 227.49,319.93 228.17,319.93 228.17,323.38 228.84,323.38 228.84,311.85 229.52,311.85 229.52,311.85 230.20,311.85 230.20,315.21 230.88,315.21 230.88,318.88 231.55,318.88 231.55,335.67 232.23,335.67 232.23,333.00 232.91,333.00 232.91,314.65 233.58,314.65 233.58,324.90 234.26,324.90 234.26,329.86 234.94,329.86 234.94,325.63 235.62,325.63 235.62,330.97 236.29,330.97 236.29,326.07 236.97,326.07 236.97,331.99 237.65,331.99 237.65,325.96 238.33,325.96 238.33,337.65 239.00,337.65 239.00,319.16 239.68,319.16 239.68,330.78 240.36,330.78 240.36,337.49 241.03,337.49 241.03,328.82 241.71,328.82 241.71,329.70 242.39,329.70 242.39,326.32 243.07,326.32 243.07,334.38 243.74,334.38 243.74,324.39 244.42,324.39 244.42,312.64 245.10,312.64 245.10,334.55 245.78,334.55 245.78,323.50 246.45,323.50 246.45,321.90 247.13,321.90 247.13,301.67 247.81,301.67 247.81,289.60 248.48,289.60 248.48,311.45 249.16,311.45 249.16,317.63 249.84,317.63 249.84,324.76 250.52,324.76 250.52,314.34 251.19,314.34 251.19,328.97 251.87,328.97 251.87,323.29 252.55,323.29 252.55,310.48 253.22,310.48 253.22,329.45 253.90,329.45 253.90,329.25 254.58,329.25 254.58,316.32 255.26,316.32 255.26,300.64 255.93,300.64 255.93,292.94 256.61,292.94 256.61,312.98 257.29,312.98 257.29,328.27 257.97,328.27 257.97,324.17 258.64,324.17 258.64,311.72 259.32,311.72 259.32,317.85 260.00,317.85 260.00,340.09 260.67,340.09 260.67,327.08 261.35,327.08 261.35,331.87 262.03,331.87 262.03,322.24 262.71,322.24 262.71,327.47 263.38,327.47 263.38,311.66 264.06,311.66 264.06,318.66 264.74,318.66 264.74,344.42 265.42,344.42 265.42,344.42 266.09,344.42 266.09,326.19 266.77,326.19 266.77,322.66 267.45,322.66 267.45,313.92 268.12,313.92 268.12,320.73 268.80,320.73 268.80,328.66 269.48,328.66 269.48,313.85 270.16,313.85 270.16,323.57 270.83,323.57 270.83,325.92 271.51,325.92 271.51,332.30 272.19,332.30 272.19,330.17 272.87,330.17 272.87,330.72 273.54,330.72 273.54,344.94 274.22,344.94 274.22,315.58 274.90,315.58 274.90,319.57 275.57,319.57 275.57,326.56 276.25,326.56 276.25,315.06 276.93,315.06 276.93,320.48 277.61,320.48 277.61,320.99 278.28,320.99 278.28,344.37 278.96,344.37 278.96,326.37 279.64,326.37 279.64,319.40 280.31,319.40 280.31,288.00 280.99,288.00 280.99,241.47 281.67,241.47 281.67,241.47 282.35,241.47 282.35,205.30 283.02,205.30 283.02,205.30 283.70,205.30 283.70,205.30 284.38,205.30 284.38,205.30 285.06,205.30 285.06,205.30 285.73,205.30 285.73,205.30 286.41,205.30 286.41,205.30 287.09,205.30 287.09,205.30 287.76,205.30 287.76,205.30 288.44,205.30 288.44,295.27 289.12,295.27 289.12,295.27 289.80,295.27 289.80,295.27 290.47,295.27 290.47,309.81 291.15,309.81 291.15,309.81 291.83,309.81 291.83,318.53 292.51,318.53 292.51,318.53 293.18,318.53 293.18,318.53 293.86,318.53 293.86,319.02 294.54,319.02 294.54,283.64 295.21,283.64 295.21,285.77 295.89,285.77 295.89,316.43 296.57,316.43 296.57,315.56 297.25,315.56 297.25,336.71 297.92,336.71 297.92,336.71 298.60,336.71 298.60,303.27 299.28,303.27 299.28,303.27 299.96,303.27 299.96,303.27 300.63,303.27 300.63,318.77 301.31,318.77 301.31,332.20 301.99,332.20 301.99,327.60 302.66,327.60 302.66,324.22 303.34,324.22 303.34,312.39 304.02,312.39 304.02,339.50 304.70,339.50 304.70,320.89 305.37,320.89 305.37,327.96 306.05,327.96 306.05,321.24 306.73,321.24 306.73,327.91 307.40,327.91 307.40,322.01 308.08,322.01 308.08,345.00 308.76,345.00 308.76,345.00 309.44,345.00 309.44,322.00 310.11,322.00 310.11,322.59 310.79,322.59 310.79,330.69 311.47,330.69 311.47,321.72 312.15,321.72 312.15,327.18 312.82,327.18 312.82,331.61 313.50,331.61 313.50,326.31 314.18,326.31 314.18,306.03 314.85,306.03 314.85,306.03 315.53,306.03 315.53,326.82 316.21,326.82 316.21,330.42 316.89,330.42 316.89,316.56 317.56,316.56 317.56,320.03 318.24,320.03 318.24,318.20 318.92,318.20 318.92,323.04 319.60,323.04 319.60,328.27 320.27,328.27 320.27,330.61 320.95,330.61 320.95,347.03 321.63,347.03 321.63,347.03 322.30,347.03 322.30,327.02 322.98,327.02 322.98,338.10 323.66,338.10 323.66,327.72 324.34,327.72 324.34,337.26 325.01,337.26 325.01,325.90 325.69,325.90 325.69,335.39 326.37,335.39 326.37,335.63 327.05,335.63 327.05,325.68 327.72,325.68 327.72,326.88 328.40,326.88 328.40,347.03 329.08,347.03 329.08,347.03 329.75,347.03 329.75,310.48 330.43,310.48 330.43,335.83 331.11,335.83 331.11,312.14 331.79,312.14 331.79,329.46 332.46,329.46 332.46,327.71 333.14,327.71 333.14,325.11 333.82,325.11 333.82,333.67 334.49,333.67 334.49,313.91 335.17,313.91 335.17,319.22 335.85,319.22 335.85,299.05 336.53,299.05 336.53,299.05 337.20,299.05 337.20,332.26 337.88,332.26 337.88,323.75 338.56,323.75 338.56,314.69 339.24,314.69 339.24,333.41 339.91,333.41 339.91,324.38 340.59,324.38 340.59,320.26 340.60,320.26" fill="none" stroke="#111" stroke-width="1.2"/>
<path d="M42.60,387.55 43.28,387.55 43.28,392.24 43.95,392.24 43.95,393.88 44.63,393.88 44.63,383.03 45.31,383.03 45.31,376.75 45.99,376.75 45.99,386.40 46.66,386.40 46.66,397.06 47.34,397.06 47.34,395.11 48.02,395.11 48.02,377.00 48.70,377.00 48.70,386.89 49.37,386.89 49.37,400.59 50.05,400.59 50.05,388.92 50.73,388.92 50.73,396.56 51.40,396.56 51.40,392.78 52.08,392.78 52.08,391.78 52.76,391.78 52.76,393.38 53.44,393.38 53.44,384.41 54.11,384.41 54.11,388.77 54.79,388.77 54.79,392.50 55.47,392.50 55.47,385.43 56.15,385.43 56.15,382.45 56.82,382.45 56.82,399.96 57.50,399.96 57.50,390.14 58.18,390.14 58.18,395.27 58.85,395.27 58.85,389.55 59.53,389.55 59.53,397.45 60.21,397.45 60.21,388.18 60.89,388.18 60.89,388.59 61.56,388.59 61.56,390.48 62.24,390.48 62.24,395.74 62.92,395.74 62.92,391.13 63.59,391.13 63.59,396.05 64.27,396.05 64.27,397.92 64.95,397.92 64.95,386.71 65.63,386.71 65.63,396.08 66.30,396.08 66.30,379.87 66.98,379.87 66.98,403.30 67.66,403.30 67.66,403.30 68.34,403.30 68.34,386.03 69.01,386.03 69.01,395.68 69.69,395.68 69.69,387.58 70.37,387.58 70.37,387.44 71.04,387.44 71.04,401.75 71.72,401.75 71.72,389.26 72.40,389.26 72.40,389.35 73.08,389.35 73.08,380.66 73.75,380.66 73.75,395.76 74.43,395.76 74.43,382.11 75.11,382.11 75.11,395.05 75.79,395.05 75.79,389.56 76.46,389.56 76.46,393.10 77.14,393.10 77.14,376.84 77.82,376.84 77.82,383.01 78.49,383.01 78.49,371.26 79.17,371.26 79.17,382.37 79.85,382.37 79.85,380.87 80.53,380.87 80.53,380.85 81.20,380.85 81.20,391.03 81.88,391.03 81.88,387.17 82.56,387.17 82.56,377.06 83.23,377.06 83.23,389.37 83.91,389.37 83.91,385.16 84.59,385.16 84.59,386.59 85.27,386.59 85.27,382.07 85.94,382.07 85.94,388.91 86.62,388.91 86.62,387.34 87.30,387.34 87.30,384.49 87.98,384.49 87.98,385.42 88.65,385.42 88.65,392.21 89.33,392.21 89.33,379.69 90.01,379.69 90.01,395.24 90.68,395.24 90.68,394.65 91.36,394.65 91.36,395.33 92.04,395.33 92.04,379.50 92.72,379.50 92.72,389.00 93.39,389.00 93.39,393.41 94.07,393.41 94.07,394.68 94.75,394.68 94.75,383.72 95.43,383.72 95.43,394.12 96.10,394.12 96.10,395.22 96.78,395.22 96.78,380.82 97.46,380.82 97.46,390.34 98.13,390.34 98.13,380.13 98.81,380.13 98.81,373.58 99.49,373.58 99.49,373.50 100.17,373.50 100.17,372.33 100.84,372.33 100.84,367.96 101.52,367.96 101.52,384.37 102.20,384.37 102.20,393.39 102.88,393.39 102.88,399.80 103.55,399.80 103.55,389.40 104.23,389.40 104.23,390.83 104.91,390.83 104.91,386.64 105.58,386.64 105.58,391.92 106.26,391.92 106.26,392.14 106.94,392.14 106.94,393.97 107.62,393.97 107.62,392.65 108.29,392.65 108.29,387.95 108.97,387.95 108.97,391.89 109.65,391.89 109.65,388.59 110.32,388.59 110.32,375.96 111.00,375.96 111.00,386.14 111.68,386.14 111.68,400.78 112.36,400.78 112.36,377.12 113.03,377.12 113.03,386.70 113.71,386.70 113.71,395.59 114.39,395.59 114.39,382.27 115.07,382.27 115.07,388.33 115.74,388.33 115.74,392.58 116.42,392.58 116.42,392.48 117.10,392.48 117.10,394.79 117.77,394.79 117.77,387.18 118.45,387.18 118.45,379.72 119.13,379.72 119.13,389.36 119.81,389.36 119.81,383.85 120.48,383.85 120.48,373.33 121.16,373.33 121.16,394.99 121.84,394.99 121.84,384.35 122.52,384.35 122.52,388.13 123.19,388.13 123.19,393.24 123.87,393.24 123.87,392.79 124.55,392.79 124.55,385.42 125.22,385.42 125.22,382.16 125.90,382.16 125.90,388.95 126.58,388.95 126.58,384.76 127.26,384.76 127.26,379.99 127.93,379.99 127.93,382.96 128.61,382.96 128.61,378.87 129.29,378.87 129.29,362.44 129.97,362.44 129.97,362.44 130.64,362.44 130.64,371.95 131.32,371.95 131.32,380.43 132.00,380.43 132.00,383.88 132.67,383.88 132.67,379.72 133.35,379.72 133.35,391.21 134.03,391.21 134.03,387.05 134.71,387.05 134.71,379.00 135.38,379.00 135.38,380.11 136.06,380.11 136.06,373.57 136.74,373.57 136.74,384.41 137.41,384.41 137.41,394.79 138.09,394.79 138.09,370.61 138.77,370.61 138.77,376.61 139.45,376.61 139.45,391.80 140.12,391.80 140.12,366.08 140.80,366.08 140.80,366.08 141.48,366.08 141.48,397.01 142.16,397.01 142.16,387.10 142.83,387.10 142.83,387.69 143.51,387.69 143.51,372.78 144.19,372.78 144.19,389.60 144.86,389.60 144.86,385.77 145.54,385.77 145.54,385.97 146.22,385.97 146.22,386.72 146.90,386.72 146.90,390.54 147.57,390.54 147.57,382.55 148.25,382.55 148.25,376.52 148.93,376.52 148.93,379.75 149.61,379.75 149.61,390.77 150.28,390.77 150.28,392.38 150.96,392.38 150.96,383.43 151.64,383.43 151.64,389.30 152.31,389.30 152.31,388.80 152.99,388.80 152.99,396.26 153.67,396.26 153.67,370.59 154.35,370.59 154.35,377.95 155.02,377.95 155.02,391.36 155.70,391.36 155.70,378.07 156.38,378.07 156.38,375.03 157.06,375.03 157.06,400.28 157.73,400.28 157.73,388.48 158.41,388.48 158.41,387.38 159.09,387.38 159.09,380.07 159.76,380.07 159.76,385.56 160.44,385.56 160.44,386.36 161.12,386.36 161.12,385.17 161.80,385.17 161.80,371.68 162.47,371.68 162.47,369.54 163.15,369.54 163.15,388.58 163.83,388.58 163.83,391.45 164.50,391.45 164.50,369.21 165.18,369.21 165.18,391.89 165.86,391.89 165.86,389.05 166.54,389.05 166.54,384.77 167.21,384.77 167.21,381.64 167.89,381.64 167.89,377.81 168.57,377.81 168.57,382.36 169.25,382.36 169.25,391.33 169.92,391.33 169.92,381.60 170.60,381.60 170.60,383.45 171.28,383.45 171.28,371.97 171.95,371.97 171.95,385.38 172.63,385.38 172.63,394.75 173.31,394.75 173.31,392.69 173.99,392.69 173.99,375.03 174.66,375.03 174.66,389.13 175.34,389.13 175.34,400.21 176.02,400.21 176.02,389.43 176.70,389.43 176.70,385.33 177.37,385.33 177.37,376.92 178.05,376.92 178.05,392.52 178.73,392.52 178.73,380.63 179.40,380.63 179.40,379.73 180.08,379.73 180.08,390.32 180.76,390.32 180.76,386.70 181.44,386.70 181.44,372.86 182.11,372.86 182.11,373.21 182.79,373.21 182.79,379.34 183.47,379.34 183.47,383.05 184.15,383.05 184.15,377.35 184.82,377.35 184.82,386.41 185.50,386.41 185.50,386.09 186.18,386.09 186.18,391.50 186.85,391.50 186.85,385.31 187.53,385.31 187.53,385.23 188.21,385.23 188.21,365.27 188.89,365.27 188.89,369.62 189.56,369.62 189.56,343.66 190.24,343.66 190.24,343.98 190.92,343.98 190.92,361.14 191.59,361.14 191.59,368.17 192.27,368.17 192.27,398.72 192.95,398.72 192.95,384.51 193.63,384.51 193.63,379.33 194.30,379.33 194.30,401.14 194.98,401.14 194.98,393.62 195.66,393.62 195.66,377.94 196.34,377.94 196.34,387.24 197.01,387.24 197.01,393.19 197.69,393.19 197.69,388.06 198.37,388.06 198.37,389.26 199.04,389.26 199.04,380.29 199.72,380.29 199.72,382.21 200.40,382.21 200.40,387.40 201.08,387.40 201.08,390.13 201.75,390.13 201.75,385.80 202.43,385.80 202.43,376.04 203.11,376.04 203.11,382.95 203.79,382.95 203.79,380.90 204.46,380.90 204.46,386.48 205.14,386.48 205.14,394.48 205.82,394.48 205.82,389.55 206.49,389.55 206.49,375.33 207.17,375.33 207.17,364.72 207.85,364.72 207.85,349.92 208.53,349.92 208.53,341.36 209.20,341.36 209.20,353.76 209.88,353.76 209.88,376.17 210.56,376.17 210.56,385.43 211.24,385.43 211.24,387.45 211.91,387.45 211.91,383.39 212.59,383.39 212.59,383.33 213.27,383.33 213.27,378.61 213.94,378.61 213.94,378.85 214.62,378.85 214.62,375.99 215.30,375.99 215.30,379.69 215.98,379.69 215.98,387.55 216.65,387.55 216.65,384.11 217.33,384.11 217.33,375.33 218.01,375.33 218.01,371.64 218.69,371.64 218.69,361.96 219.36,361.96 219.36,363.43 220.04,363.43 220.04,384.44 220.72,384.44 220.72,396.26 221.39,396.26 221.39,376.78 222.07,376.78 222.07,385.28 222.75,385.28 222.75,380.40 223.43,380.40 223.43,394.85 224.10,394.85 224.10,373.19 224.78,373.19 224.78,380.28 225.46,380.28 225.46,386.44 226.13,386.44 226.13,387.97 226.81,387.97 226.81,383.54 227.49,383.54 227.49,380.22 228.17,380.22 228.17,371.48 228.84,371.48 228.84,373.41 229.52,373.41 229.52,367.11 230.20,367.11 230.20,383.15 230.88,383.15 230.88,385.04 231.55,385.04 231.55,385.35 232.23,385.35 232.23,401.81 232.91,401.81 232.91,382.41 233.58,382.41 233.58,388.52 234.26,388.52 234.26,388.30 234.94,388.30 234.94,385.81 235.62,385.81 235.62,393.24 236.29,393.24 236.29,380.44 236.97,380.44 236.97,391.34 237.65,391.34 237.65,392.77 238.33,392.77 238.33,392.43 239.00,392.43 239.00,385.15 239.68,385.15 239.68,380.95 240.36,380.95 240.36,403.59 241.03,403.59 241.03,403.59 241.71,403.59 241.71,378.57 242.39,378.57 242.39,393.59 243.07,393.59 243.07,377.54 243.74,377.54 243.74,386.27 244.42,386.27 244.42,389.74 245.10,389.74 245.10,383.69 245.78,383.69 245.78,368.09 246.45,368.09 246.45,366.54 247.13,366.54 247.13,381.93 247.81,381.93 247.81,378.31 248.48,378.31 248.48,370.83 249.16,370.83 249.16,387.06 249.84,387.06 249.84,393.68 250.52,393.68 250.52,392.96 251.19,392.96 251.19,395.29 251.87,395.29 251.87,389.94 252.55,389.94 252.55,390.51 253.22,390.51 253.22,394.26 253.90,394.26 253.90,376.56 254.58,376.56 254.58,377.83 255.26,377.83 255.26,348.63 255.93,348.63 255.93,351.30 256.61,351.30 256.61,372.92 257.29,372.92 257.29,381.16 257.97,381.16 257.97,382.11 258.64,382.11 258.64,372.83 259.32,372.83 259.32,381.56 260.00,381.56 260.00,384.80 260.67,384.80 260.67,394.05 261.35,394.05 261.35,385.86 262.03,385.86 262.03,390.53 262.71,390.53 262.71,390.33 263.38,390.33 263.38,390.38 264.06,390.38 264.06,403.59 264.74,403.59 264.74,403.59 265.42,403.59 265.42,379.14 266.09,379.14 266.09,394.69 266.77,394.69 266.77,386.50 267.45,386.50 267.45,372.13 268.12,372.13 268.12,385.01 268.80,385.01 268.80,376.80 269.48,376.80 269.48,377.23 270.16,377.23 270.16,375.84 270.83,375.84 270.83,379.78 271.51,379.78 271.51,394.62 272.19,394.62 272.19,386.58 272.87,386.58 272.87,387.23 273.54,387.23 273.54,395.34 274.22,395.34 274.22,387.51 274.90,387.51 274.90,392.92 275.57,392.92 275.57,395.70 276.25,395.70 276.25,382.26 276.93,382.26 276.93,383.91 277.61,383.91 277.61,388.31 278.28,388.31 278.28,390.02 278.96,390.02 278.96,386.96 279.64,386.96 279.64,385.77 280.31,385.77 280.31,385.71 280.99,385.71 280.99,383.04 281.67,383.04 281.67,385.59 282.35,385.59 282.35,367.97 283.02,367.97 283.02,367.97 283.70,367.97 283.70,351.98 284.38,351.98 284.38,205.30 285.06,205.30 285.06,205.30 285.73,205.30 285.73,205.30 286.41,205.30 286.41,205.30 287.09,205.30 287.09,205.30 287.76,205.30 287.76,205.30 288.44,205.30 288.44,341.80 289.12,341.80 289.12,341.80 289.80,341.80 289.80,354.88 290.47,354.88 290.47,367.97 291.15,367.97 291.15,367.97 291.83,367.97 291.83,379.30 292.51,379.30 292.51,380.54 293.18,380.54 293.18,388.89 293.86,388.89 293.86,363.65 294.54,363.65 294.54,347.03 295.21,347.03 295.21,350.20 295.89,350.20 295.89,368.44 296.57,368.44 296.57,376.62 297.25,376.62 297.25,373.58 297.92,373.58 297.92,383.35 298.60,383.35 298.60,382.51 299.28,382.51 299.28,385.72 299.96,385.72 299.96,382.36 300.63,382.36 300.63,368.09 301.31,368.09 301.31,382.65 301.99,382.65 301.99,371.89 302.66,371.89 302.66,374.63 303.34,374.63 303.34,375.51 304.02,375.51 304.02,375.18 304.70,375.18 304.70,388.24 305.37,388.24 305.37,378.60 306.05,378.60 306.05,370.18 306.73,370.18 306.73,386.52 307.40,386.52 307.40,404.30 308.08,404.30 308.08,404.30 308.76,404.30 308.76,379.88 309.44,379.88 309.44,389.94 310.11,389.94 310.11,371.09 310.79,371.09 310.79,385.33 311.47,385.33 311.47,393.76 312.15,393.76 312.15,370.34 312.82,370.34 312.82,376.32 313.50,376.32 313.50,379.70 314.18,379.70 314.18,379.78 314.85,379.78 314.85,386.26 315.53,386.26 315.53,385.48 316.21,385.48 316.21,378.95 316.89,378.95 316.89,377.76 317.56,377.76 317.56,377.83 318.24,377.83 318.24,383.11 318.92,383.11 318.92,388.09 319.60,388.09 319.60,399.96 320.27,399.96 320.27,399.96 320.95,399.96 320.95,374.66 321.63,374.66 321.63,387.20 322.30,387.20 322.30,388.09 322.98,388.09 322.98,375.81 323.66,375.81 323.66,379.45 324.34,379.45 324.34,379.57 325.01,379.57 325.01,393.73 325.69,393.73 325.69,387.01 326.37,387.01 326.37,387.94 327.05,387.94 327.05,382.76 327.72,382.76 327.72,402.87 328.40,402.87 328.40,402.87 329.08,402.87 329.08,381.90 329.75,381.90 329.75,380.84 330.43,380.84 330.43,391.93 331.11,391.93 331.11,383.36 331.79,383.36 331.79,373.36 332.46,373.36 332.46,393.55 333.14,393.55 333.14,379.90 333.82,379.90 333.82,376.75 334.49,376.75 334.49,386.23 335.17,386.23 335.17,365.64 335.85,365.64 335.85,365.64 336.53,365.64 336.53,371.52 337.20,371.52 337.20,376.12 337.88,376.12 337.88,378.01 338.56,378.01 338.56,365.38 339.24,365.38 339.24,373.71 339.91,373.71 339.91,370.34 340.59,370.34 340.59,388.02 340.60,388.02" fill="none" stroke="#d6141e" stroke-width="1.15"/></g>
<rect x="62.40" y="549.54" width="4.2" height="1.26" fill="#fdb52a"/>
<rect x="78.60" y="549.54" width="4.2" height="1.26" fill="#fdb52a"/>
<rect x="97.90" y="549.85" width="4.2" height="0.94" fill="#fdb52a"/>
<rect x="135.60" y="547.96" width="4.2" height="2.83" fill="#fdb52a"/>
<rect x="149.30" y="549.54" width="4.2" height="1.26" fill="#fdb52a"/>
<rect x="191.10" y="547.96" width="4.2" height="2.83" fill="#fdb52a"/>
<rect x="198.40" y="538.83" width="4.2" height="11.97" fill="#fdb52a"/>
<rect x="214.30" y="549.54" width="4.2" height="1.26" fill="#fdb52a"/>
<rect x="237.80" y="547.96" width="4.2" height="2.83" fill="#fdb52a"/>
<rect x="241.50" y="487.80" width="4.2" height="63.00" fill="#fdb52a"/>
<rect x="249.90" y="467.95" width="4.2" height="82.84" fill="#fdb52a"/>
<rect x="253.60" y="536.62" width="4.2" height="14.17" fill="#fdb52a"/>
<rect x="258.80" y="545.13" width="4.2" height="5.67" fill="#fdb52a"/>
<rect x="273.80" y="548.28" width="4.2" height="2.52" fill="#fdb52a"/>
<rect x="288.20" y="547.65" width="4.2" height="3.15" fill="#fdb52a"/>
<rect x="298.50" y="543.87" width="4.2" height="6.93" fill="#fdb52a"/>
<rect x="301.50" y="547.02" width="4.2" height="3.78" fill="#fdb52a"/>
<rect x="304.80" y="534.73" width="4.2" height="16.06" fill="#fdb52a"/>
<rect x="315.70" y="545.13" width="4.2" height="5.67" fill="#fdb52a"/>
<rect x="322.00" y="547.02" width="4.2" height="3.78" fill="#fdb52a"/>
<rect x="328.90" y="545.13" width="4.2" height="5.67" fill="#fdb52a"/>
<rect x="337.80" y="549.22" width="4.2" height="1.57" fill="#fdb52a"/>
<rect x="203.40" y="547.65" width="1.2" height="3.15" fill="#111"/>
<rect x="220.50" y="547.02" width="1.2" height="3.78" fill="#111"/>
<rect x="240.30" y="543.55" width="1.2" height="7.24" fill="#111"/>
<rect x="243.40" y="437.71" width="1.2" height="113.08" fill="#111"/>
<rect x="250.60" y="522.76" width="1.2" height="28.04" fill="#111"/>
<rect x="252.00" y="544.50" width="1.2" height="6.30" fill="#111"/>
<rect x="256.30" y="548.28" width="1.2" height="2.52" fill="#111"/>
<rect x="259.70" y="547.02" width="1.2" height="3.78" fill="#111"/>
<rect x="276.30" y="545.13" width="1.2" height="5.67" fill="#111"/>
<rect x="290.50" y="542.61" width="1.2" height="8.19" fill="#111"/>
<rect x="299.80" y="532.84" width="1.2" height="17.95" fill="#111"/>
<rect x="306.30" y="520.88" width="1.2" height="29.93" fill="#111"/>
<rect x="320.30" y="540.09" width="1.2" height="10.71" fill="#111"/>
<rect x="330.40" y="547.02" width="1.2" height="3.78" fill="#111"/>

<rect x="87" y="449.5" width="11.4" height="1.2" fill="#222"/>
<rect x="87" y="460.4" width="11.4" height="3.6" fill="#fdb52a"/>


<g fill="none" stroke="#111" stroke-width="1.1">
<!-- panel a Fe VIII -->
<polyline points="190.4,89.1 190.4,47.1 216,30.2 207.9,47.1 207.9,59.1"/>
<polyline points="207.9,66 207.9,93.4"/>
<polyline points="216,30.2 218.7,47.1 218.7,79.7"/>
<polyline points="216,30.2 229.8,47.1 229.8,104.6"/>
<!-- panel a Fe XIV -->
<polyline points="248.1,98.4 248.1,47.6 253.6,35.1 256.3,47.6 256.3,87.7"/>
<line x1="293.8" y1="31.4" x2="302.3" y2="23.7"/>
<!-- panel b Fe VIII -->
<polyline points="190.3,272.3 190.3,250.1 216.4,232.1 207.9,250.1 207.9,261.7"/>
<polyline points="207.9,270.3 207.9,290"/>
<polyline points="216.4,232.1 219.4,250.1 219.4,281.5"/>
<polyline points="216.4,232.1 230,250.1 230,306.5"/>
<!-- panel b Fe XIV -->
<polyline points="248.4,281.8 248.4,244.4 253.5,232.5 256.2,244.4 256.2,283.8"/>
<line x1="100" y1="268.3" x2="100" y2="291.4"/>
<line x1="304.7" y1="262.3" x2="296.7" y2="277.4"/>
</g>

<g style="filter:grayscale(1)">
<text class="num" x="33.05" y="9.50" text-anchor="end">140</text>
<text class="num" x="33.05" y="41.12" text-anchor="end">120</text>
<text class="num" x="32.35" y="72.74" text-anchor="end">100</text>
<text class="num" x="30.95" y="104.36" text-anchor="end">80</text>
<text class="num" x="30.849999999999998" y="135.98" text-anchor="end">60</text>
<text class="num" x="30.75" y="167.60" text-anchor="end">40</text>
<text class="num" x="30.549999999999997" y="199.22" text-anchor="end">20</text>
<text class="num" x="32.25" y="218.20" text-anchor="end">120</text>
<text class="num" x="31.849999999999998" y="247.28" text-anchor="end">100</text>
<text class="num" x="30.65" y="276.36" text-anchor="end">80</text>
<text class="num" x="30.549999999999997" y="305.44" text-anchor="end">60</text>
<text class="num" x="30.45" y="334.52" text-anchor="end">40</text>
<text class="num" x="30.25" y="363.60" text-anchor="end">20</text>
<text class="num" x="29.25" y="392.68" text-anchor="end">0</text>
<text class="num" x="33.05" y="427.70" text-anchor="end">40</text>
<text class="num" x="32.85" y="459.20" text-anchor="end">30</text>
<text class="num" x="32.45" y="490.70" text-anchor="end">20</text>
<text class="num" x="32.15" y="522.20" text-anchor="end">10</text>
<text class="num" x="30.15" y="553.70" text-anchor="end">0</text>
<text class="num" x="42.93" y="568.6" text-anchor="middle">162</text>
<text class="num" x="70.02" y="568.6" text-anchor="middle">163</text>
<text class="num" x="97.11" y="568.6" text-anchor="middle">164</text>
<text class="num" x="124.20" y="568.6" text-anchor="middle">165</text>
<text class="num" x="151.29" y="568.6" text-anchor="middle">166</text>
<text class="num" x="178.38" y="568.6" text-anchor="middle">167</text>
<text class="num" x="205.47" y="568.6" text-anchor="middle">168</text>
<text class="num" x="232.56" y="568.6" text-anchor="middle">169</text>
<text class="num" x="259.65" y="568.6" text-anchor="middle">170</text>
<text class="num" x="286.74" y="568.6" text-anchor="middle">171</text>
<text class="num" x="313.83" y="568.6" text-anchor="middle">172</text>
<text class="num" x="340.92" y="568.6" text-anchor="middle">173</text>

<text x="57.3" y="22.7">(a)</text>
<text x="203.2" y="25.1">Fe VIII</text>
<text x="239.3" y="31.2">Fe XIV</text>
<text x="296.5" y="21.2">Fe IX</text>
<text x="56.7" y="234.2">(b)</text>
<text x="203.4" y="227.9">Fe VIII</text>
<text x="239.1" y="228.4">Fe XIV</text>
<text x="89.3" y="264">Ni XIII</text>
<text x="300.4" y="260.2">Ni XIV</text>
<text x="57.3" y="441.9">(c)</text>
<text x="87" y="443">Fe XIV</text>
<text x="104.4" y="453.4">10<tspan font-size="7.5" dy="-3.5">8</tspan><tspan dy="3.5"> cm</tspan><tspan font-size="7.5" dy="-3.5">-3</tspan></text>
<text x="104.4" y="465.6">10<tspan font-size="7.5" dy="-3.5">12</tspan><tspan dy="3.5"> cm</tspan><tspan font-size="7.5" dy="-3.5">-3</tspan></text>
<text x="195.3" y="581" text-anchor="middle">Wavelength (Å)</text>
<text transform="translate(8.4,91.6) rotate(-90)" text-anchor="middle">Counts</text>
<text transform="translate(8.4,294) rotate(-90)" text-anchor="middle">Counts</text>
<text transform="translate(8.6,469.6) rotate(-90)" text-anchor="middle">Emissivity (arb. units)</text>

</g>
</svg>
</body></html>
